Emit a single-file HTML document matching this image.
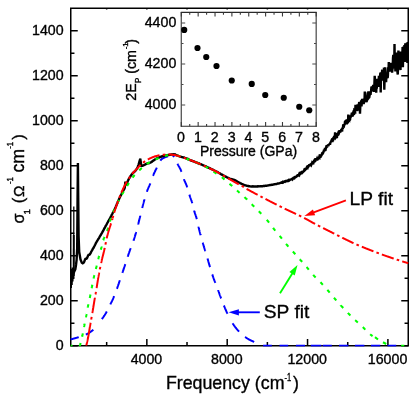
<!DOCTYPE html>
<html><head><meta charset="utf-8"><title>Optical conductivity</title>
<style>html,body{margin:0;padding:0;background:#fff;}body{width:415px;height:400px;overflow:hidden;font-family:"Liberation Sans",sans-serif;}svg{display:block;}</style></head>
<body>
<svg width="415" height="400" viewBox="0 0 415 400">
<rect width="415" height="400" fill="#fff"/>
<defs><filter id="g" x="0" y="0" width="415" height="400" filterUnits="userSpaceOnUse"><feOffset dx="0" dy="0"/></filter><clipPath id="c"><rect x="70.00" y="7.50" width="339.00" height="339.00"/></clipPath></defs>
<g stroke="#000" stroke-width="1.5" fill="none" stroke-linecap="butt">
<rect x="70.75" y="8.25" width="337.50" height="337.50"/>
<path d="M70.75,345.75h7.00M408.25,345.75h-7.00M70.75,323.25h3.70M408.25,323.25h-3.70M70.75,300.75h7.00M408.25,300.75h-7.00M70.75,278.25h3.70M408.25,278.25h-3.70M70.75,255.75h7.00M408.25,255.75h-7.00M70.75,233.25h3.70M408.25,233.25h-3.70M70.75,210.75h7.00M408.25,210.75h-7.00M70.75,188.25h3.70M408.25,188.25h-3.70M70.75,165.75h7.00M408.25,165.75h-7.00M70.75,143.25h3.70M408.25,143.25h-3.70M70.75,120.75h7.00M408.25,120.75h-7.00M70.75,98.25h3.70M408.25,98.25h-3.70M70.75,75.75h7.00M408.25,75.75h-7.00M70.75,53.25h3.70M408.25,53.25h-3.70M70.75,30.75h7.00M408.25,30.75h-7.00M106.66,345.75v-3.80M106.66,8.25v1.25M146.84,345.75v-6.80M146.84,8.25v1.25M187.02,345.75v-3.80M187.02,8.25v1.25M227.20,345.75v-6.80M227.20,8.25v1.25M267.38,345.75v-3.80M267.38,8.25v1.25M307.55,345.75v-6.80M307.55,8.25v1.25M347.73,345.75v-3.80M347.73,8.25v1.25M387.91,345.75v-6.80M387.91,8.25v1.25"/>
</g>
<g clip-path="url(#c)" fill="none" stroke-linejoin="round">
<path d="M70.60,339.40 L70.84,339.34 L71.09,339.28 L71.33,339.22 L71.57,339.16 L71.82,339.10 L72.06,339.04 L72.30,338.97 L72.54,338.91 L72.78,338.85 L73.03,338.78 L73.27,338.72 L73.51,338.65 L73.75,338.59 L73.99,338.52 L74.23,338.46 L74.47,338.39 L74.71,338.32 L74.96,338.25 L75.20,338.19 L75.44,338.12 L75.68,338.05 L75.92,337.98 L76.16,337.91 L76.39,337.84 L76.63,337.76 L76.87,337.69 L77.11,337.62 L77.35,337.55 L77.59,337.47 L77.83,337.40 L78.07,337.33 L78.31,337.25 L78.55,337.18 L78.71,337.13M85.86,334.58 L86.08,334.48 L86.30,334.37 L86.52,334.27 L86.74,334.16 L86.96,334.05 L87.18,333.93 L87.40,333.81 L87.62,333.70 L87.84,333.57 L88.06,333.45 L88.27,333.32 L88.49,333.20 L88.71,333.07 L88.92,332.93 L89.14,332.80 L89.35,332.66 L89.57,332.53 L89.78,332.39 L89.99,332.25 L90.20,332.10 L90.41,331.96 L90.62,331.81 L90.83,331.66 L91.04,331.52 L91.24,331.37 L91.45,331.21 L91.65,331.06 L91.85,330.91 L92.05,330.75 L92.25,330.59 L92.45,330.44 L92.65,330.28 L92.84,330.12 L93.03,329.96 L93.22,329.80 L93.37,329.67M101.88,319.12 L102.00,318.96 L102.14,318.76 L102.29,318.55 L102.43,318.35 L102.58,318.14 L102.72,317.94 L102.87,317.73 L103.01,317.53 L103.15,317.32 L103.30,317.12 L103.44,316.91 L103.58,316.70 L103.72,316.50 L103.86,316.29 L104.00,316.08 L104.14,315.87 L104.28,315.66 L104.42,315.46 L104.56,315.25 L104.69,315.04 L104.83,314.83 L104.96,314.62 L105.10,314.41 L105.23,314.19 L105.36,313.98 L105.50,313.77 L105.63,313.56 L105.75,313.34 L105.88,313.13 L106.01,312.92 L106.13,312.70 L106.26,312.49 L106.38,312.27 L106.50,312.05 L106.62,311.83 L106.74,311.62 L106.82,311.48M110.26,304.43 L110.37,304.20 L110.49,303.98 L110.60,303.75 L110.71,303.53 L110.83,303.31 L110.94,303.09 L111.06,302.86 L111.17,302.64 L111.29,302.42 L111.41,302.20 L111.52,301.98 L111.64,301.76 L111.76,301.53 L111.87,301.31 L111.98,301.09 L112.09,300.86 L112.20,300.64 L112.31,300.42 L112.41,300.19 L112.52,299.96 L112.62,299.73 L112.72,299.51 L112.82,299.28 L112.92,299.05 L113.01,298.82 L113.11,298.59 L113.21,298.36 L113.31,298.14 L113.40,297.91 L113.50,297.68 L113.60,297.45 L113.69,297.22 L113.79,296.99 L113.88,296.76 L113.98,296.53 L114.07,296.30 L114.12,296.19M116.90,288.85 L116.91,288.82 L117.00,288.59 L117.08,288.35 L117.16,288.12 L117.25,287.88 L117.33,287.64 L117.41,287.41 L117.50,287.17 L117.58,286.94 L117.66,286.70 L117.75,286.46 L117.83,286.23 L117.91,285.99 L117.99,285.75 L118.07,285.52 L118.16,285.28 L118.24,285.04 L118.32,284.81 L118.40,284.57 L118.48,284.33 L118.56,284.09 L118.64,283.86 L118.73,283.62 L118.81,283.38 L118.89,283.14 L118.97,282.91 L119.05,282.67 L119.13,282.43 L119.21,282.20 L119.29,281.96 L119.37,281.72 L119.45,281.48 L119.53,281.25 L119.61,281.01 L119.69,280.77 L119.77,280.53 L119.85,280.30 L119.87,280.25M122.39,272.81 L122.43,272.71 L122.51,272.47 L122.59,272.24 L122.67,272.00 L122.75,271.76 L122.84,271.53 L122.92,271.29 L123.00,271.05 L123.08,270.82 L123.16,270.58 L123.24,270.34 L123.32,270.11 L123.40,269.87 L123.48,269.63 L123.56,269.40 L123.64,269.16 L123.72,268.92 L123.80,268.68 L123.88,268.45 L123.95,268.21 L124.03,267.97 L124.11,267.74 L124.19,267.50 L124.27,267.26 L124.35,267.02 L124.43,266.79 L124.50,266.55 L124.58,266.31 L124.66,266.07 L124.74,265.84 L124.81,265.60 L124.89,265.36 L124.97,265.12 L125.05,264.88 L125.12,264.65 L125.20,264.41 L125.28,264.18M127.71,256.72 L127.76,256.56 L127.84,256.33 L127.92,256.09 L127.99,255.85 L128.07,255.61 L128.15,255.38 L128.23,255.14 L128.31,254.90 L128.39,254.67 L128.47,254.43 L128.55,254.19 L128.63,253.96 L128.71,253.72 L128.79,253.48 L128.87,253.25 L128.95,253.01 L129.03,252.77 L129.11,252.54 L129.20,252.30 L129.28,252.06 L129.36,251.83 L129.44,251.59 L129.52,251.35 L129.61,251.12 L129.69,250.88 L129.77,250.65 L129.85,250.41 L129.94,250.18 L130.02,249.94 L130.11,249.71 L130.19,249.47 L130.28,249.24 L130.36,249.00 L130.45,248.77 L130.54,248.53 L130.63,248.30 L130.69,248.12M133.48,240.79 L133.55,240.58 L133.63,240.35 L133.71,240.11 L133.79,239.87 L133.87,239.64 L133.95,239.40 L134.02,239.16 L134.10,238.93 L134.18,238.69 L134.25,238.45 L134.33,238.21 L134.40,237.97 L134.48,237.74 L134.55,237.50 L134.62,237.26 L134.70,237.02 L134.77,236.78 L134.84,236.54 L134.92,236.31 L134.99,236.07 L135.06,235.83 L135.13,235.59 L135.20,235.35 L135.27,235.11 L135.34,234.87 L135.41,234.63 L135.48,234.39 L135.55,234.15 L135.62,233.91 L135.69,233.67 L135.76,233.43 L135.83,233.19 L135.90,232.95 L135.97,232.71 L136.03,232.47 L136.10,232.23 L136.14,232.08M138.14,224.49 L138.14,224.47 L138.20,224.23 L138.26,223.99 L138.33,223.74 L138.39,223.50 L138.45,223.26 L138.51,223.01 L138.57,222.77 L138.63,222.53 L138.69,222.28 L138.75,222.04 L138.81,221.80 L138.87,221.55 L138.93,221.31 L138.99,221.06 L139.05,220.82 L139.11,220.58 L139.17,220.33 L139.22,220.09 L139.28,219.84 L139.34,219.60 L139.40,219.36 L139.46,219.11 L139.52,218.87 L139.58,218.63 L139.64,218.38 L139.70,218.14 L139.76,217.89 L139.82,217.65 L139.87,217.40 L139.93,217.16 L139.99,216.92 L140.05,216.67 L140.11,216.43 L140.17,216.18 L140.23,215.94 L140.29,215.70 L140.30,215.65M142.17,208.03 L142.20,207.90 L142.27,207.66 L142.33,207.42 L142.39,207.17 L142.45,206.93 L142.51,206.69 L142.58,206.45 L142.64,206.20 L142.70,205.96 L142.76,205.72 L142.83,205.48 L142.89,205.23 L142.95,204.99 L143.02,204.75 L143.08,204.51 L143.14,204.27 L143.21,204.03 L143.27,203.78 L143.34,203.54 L143.40,203.30 L143.47,203.06 L143.53,202.82 L143.60,202.58 L143.66,202.34 L143.73,202.10 L143.80,201.85 L143.86,201.61 L143.93,201.37 L144.00,201.13 L144.06,200.89 L144.13,200.65 L144.20,200.41 L144.27,200.17 L144.34,199.93 L144.41,199.69 L144.47,199.45 L144.53,199.24M146.89,191.75 L146.93,191.62 L147.01,191.38 L147.10,191.15 L147.18,190.91 L147.26,190.68 L147.34,190.44 L147.43,190.21 L147.51,189.98 L147.59,189.74 L147.68,189.51 L147.77,189.28 L147.87,189.05 L147.96,188.82 L148.06,188.59 L148.16,188.36 L148.26,188.13 L148.36,187.90 L148.46,187.67 L148.57,187.44 L148.67,187.21 L148.77,186.99 L148.88,186.76 L148.98,186.53 L149.09,186.30 L149.19,186.08 L149.30,185.85 L149.40,185.62 L149.50,185.39 L149.60,185.16 L149.70,184.93 L149.80,184.70 L149.89,184.47 L149.99,184.24 L150.08,184.00 L150.17,183.77 L150.26,183.54 L150.33,183.34M152.96,175.94 L153.03,175.77 L153.13,175.54 L153.22,175.31 L153.32,175.08 L153.41,174.85 L153.51,174.62 L153.61,174.39 L153.71,174.16 L153.81,173.93 L153.91,173.70 L154.01,173.47 L154.12,173.24 L154.22,173.02 L154.32,172.79 L154.43,172.56 L154.53,172.33 L154.64,172.11 L154.74,171.88 L154.85,171.65 L154.96,171.43 L155.07,171.20 L155.17,170.98 L155.28,170.75 L155.39,170.53 L155.50,170.30 L155.61,170.08 L155.72,169.85 L155.83,169.63 L155.94,169.40 L156.06,169.18 L156.17,168.95 L156.28,168.73 L156.39,168.51 L156.50,168.28 L156.62,168.06 L156.73,167.84 L156.80,167.69M160.31,160.68 L160.40,160.56 L160.54,160.37 L160.69,160.18 L160.83,160.00 L160.98,159.83 L161.14,159.67 L161.29,159.51 L161.46,159.35 L161.64,159.20 L161.82,159.05 L162.01,158.90 L162.22,158.75 L162.43,158.61 L162.64,158.48 L162.86,158.34 L163.09,158.21 L163.32,158.08 L163.55,157.96 L163.78,157.84 L164.01,157.73 L164.25,157.62 L164.48,157.52 L164.71,157.42 L164.94,157.32 L165.17,157.23 L165.40,157.14 L165.63,157.06 L165.87,156.97 L166.10,156.89 L166.34,156.81 L166.58,156.73 L166.82,156.66 L167.06,156.58 L167.30,156.51 L167.54,156.45 L167.79,156.38 L168.03,156.32 L168.07,156.31M172.48,155.60 L172.69,155.62 L172.91,155.70 L173.12,155.81 L173.33,155.96 L173.53,156.14 L173.73,156.34 L173.92,156.55 L174.10,156.77 L174.25,156.96M177.47,163.82 L177.56,163.98 L177.68,164.20 L177.80,164.42 L177.93,164.64 L178.05,164.86 L178.17,165.08 L178.30,165.30 L178.42,165.52 L178.54,165.74 L178.67,165.95 L178.79,166.17 L178.92,166.39 L179.04,166.61 L179.16,166.83 L179.29,167.05 L179.41,167.27 L179.53,167.49 L179.65,167.71 L179.77,167.93 L179.88,168.15 L180.00,168.37 L180.11,168.59 L180.23,168.81 L180.34,169.04 L180.45,169.26 L180.55,169.48 L180.66,169.71 L180.76,169.94 L180.86,170.16 L180.95,170.39 L181.05,170.62 L181.14,170.85 L181.23,171.08 L181.32,171.31 L181.40,171.55 L181.49,171.78 L181.51,171.84M183.87,179.07 L183.90,179.16 L183.99,179.39 L184.08,179.62 L184.18,179.85 L184.27,180.08 L184.37,180.32 L184.46,180.55 L184.56,180.78 L184.66,181.01 L184.76,181.24 L184.86,181.47 L184.96,181.70 L185.06,181.93 L185.16,182.16 L185.26,182.39 L185.36,182.61 L185.47,182.84 L185.57,183.07 L185.67,183.30 L185.77,183.53 L185.87,183.76 L185.97,183.99 L186.07,184.22 L186.17,184.45 L186.26,184.68 L186.36,184.91 L186.46,185.14 L186.55,185.37 L186.64,185.61 L186.73,185.84 L186.82,186.07 L186.91,186.30 L187.00,186.54 L187.08,186.77 L187.17,187.01 L187.25,187.24 L187.30,187.39M189.38,194.69 L189.46,194.93 L189.53,195.17 L189.61,195.41 L189.69,195.64 L189.77,195.88 L189.85,196.12 L189.93,196.35 L190.01,196.59 L190.09,196.83 L190.18,197.06 L190.26,197.30 L190.35,197.53 L190.43,197.77 L190.52,198.00 L190.60,198.24 L190.69,198.48 L190.77,198.71 L190.86,198.95 L190.94,199.18 L191.03,199.42 L191.11,199.65 L191.20,199.89 L191.28,200.12 L191.37,200.36 L191.45,200.60 L191.53,200.83 L191.61,201.07 L191.69,201.31 L191.77,201.54 L191.85,201.78 L191.92,202.02 L192.00,202.26 L192.07,202.49 L192.14,202.73 L192.21,202.97 L192.28,203.21M194.10,210.59 L194.14,210.74 L194.21,210.98 L194.28,211.22 L194.35,211.46 L194.42,211.69 L194.50,211.93 L194.57,212.17 L194.65,212.41 L194.73,212.65 L194.80,212.89 L194.88,213.12 L194.96,213.36 L195.04,213.60 L195.12,213.83 L195.21,214.07 L195.29,214.31 L195.37,214.55 L195.45,214.78 L195.53,215.02 L195.61,215.26 L195.69,215.49 L195.78,215.73 L195.86,215.97 L195.94,216.20 L196.02,216.44 L196.09,216.68 L196.17,216.92 L196.25,217.15 L196.32,217.39 L196.40,217.63 L196.47,217.87 L196.54,218.11 L196.61,218.35 L196.68,218.59 L196.75,218.83 L196.81,219.07 L196.84,219.16M198.43,226.59 L198.44,226.64 L198.50,226.89 L198.55,227.13 L198.61,227.37 L198.67,227.62 L198.73,227.86 L198.79,228.10 L198.84,228.35 L198.90,228.59 L198.96,228.83 L199.02,229.08 L199.08,229.32 L199.14,229.56 L199.20,229.80 L199.26,230.05 L199.33,230.29 L199.39,230.53 L199.45,230.77 L199.51,231.01 L199.57,231.26 L199.64,231.50 L199.70,231.74 L199.76,231.98 L199.83,232.23 L199.89,232.47 L199.95,232.71 L200.02,232.95 L200.08,233.19 L200.15,233.43 L200.21,233.68 L200.27,233.92 L200.34,234.16 L200.40,234.40 L200.47,234.64 L200.53,234.88 L200.60,235.12 L200.65,235.31M202.71,242.63 L202.77,242.82 L202.84,243.06 L202.91,243.30 L202.98,243.54 L203.05,243.78 L203.12,244.02 L203.20,244.26 L203.27,244.50 L203.34,244.74 L203.41,244.98 L203.48,245.22 L203.55,245.46 L203.62,245.70 L203.70,245.94 L203.77,246.18 L203.84,246.42 L203.91,246.66 L203.99,246.90 L204.06,247.13 L204.13,247.37 L204.20,247.61 L204.28,247.85 L204.35,248.09 L204.42,248.33 L204.49,248.57 L204.57,248.81 L204.64,249.05 L204.71,249.29 L204.79,249.53 L204.86,249.77 L204.93,250.01 L205.00,250.24 L205.08,250.48 L205.15,250.72 L205.22,250.96 L205.30,251.20 L205.31,251.24M207.51,258.52 L207.54,258.62 L207.61,258.86 L207.68,259.10 L207.75,259.34 L207.82,259.58 L207.89,259.82 L207.96,260.06 L208.03,260.30 L208.10,260.54 L208.17,260.78 L208.24,261.02 L208.31,261.26 L208.38,261.50 L208.44,261.74 L208.51,261.98 L208.58,262.22 L208.65,262.46 L208.72,262.70 L208.79,262.94 L208.86,263.18 L208.93,263.42 L209.00,263.67 L209.07,263.91 L209.14,264.15 L209.20,264.39 L209.27,264.63 L209.34,264.87 L209.41,265.11 L209.48,265.35 L209.55,265.59 L209.62,265.83 L209.69,266.07 L209.76,266.31 L209.83,266.55 L209.90,266.79 L209.97,267.03 L210.01,267.16M212.26,274.42 L212.27,274.43 L212.34,274.67 L212.42,274.90 L212.50,275.14 L212.58,275.38 L212.66,275.62 L212.74,275.85 L212.82,276.09 L212.90,276.33 L212.98,276.56 L213.06,276.80 L213.14,277.04 L213.22,277.27 L213.31,277.51 L213.39,277.74 L213.47,277.98 L213.56,278.22 L213.64,278.45 L213.73,278.69 L213.81,278.92 L213.90,279.15 L213.99,279.39 L214.08,279.62 L214.17,279.85 L214.26,280.09 L214.35,280.32 L214.44,280.55 L214.54,280.78 L214.63,281.01 L214.73,281.25 L214.82,281.48 L214.92,281.71 L215.01,281.94 L215.11,282.17 L215.20,282.40 L215.30,282.63 L215.39,282.86M218.07,289.97 L218.12,290.12 L218.21,290.35 L218.29,290.59 L218.37,290.83 L218.46,291.06 L218.54,291.30 L218.62,291.53 L218.70,291.77 L218.79,292.01 L218.87,292.24 L218.95,292.48 L219.04,292.71 L219.12,292.95 L219.20,293.18 L219.29,293.42 L219.37,293.66 L219.46,293.89 L219.54,294.13 L219.62,294.36 L219.71,294.60 L219.79,294.83 L219.88,295.07 L219.96,295.30 L220.05,295.54 L220.13,295.77 L220.22,296.01 L220.30,296.24 L220.39,296.48 L220.48,296.71 L220.56,296.95 L220.65,297.18 L220.74,297.41 L220.83,297.65 L220.92,297.88 L221.01,298.11 L221.09,298.35 L221.13,298.43M223.90,305.51 L223.93,305.57 L224.02,305.80 L224.12,306.04 L224.21,306.27 L224.31,306.50 L224.40,306.73 L224.50,306.96 L224.59,307.19 L224.69,307.43 L224.79,307.66 L224.88,307.89 L224.98,308.12 L225.08,308.35 L225.17,308.58 L225.27,308.81 L225.37,309.04 L225.47,309.27 L225.57,309.50 L225.67,309.73 L225.77,309.96 L225.87,310.19 L225.97,310.41 L226.07,310.64 L226.17,310.87 L226.27,311.10 L226.37,311.33 L226.48,311.55 L226.58,311.78 L226.68,312.01 L226.79,312.23 L226.89,312.46 L227.00,312.69 L227.10,312.91 L227.21,313.14 L227.31,313.36 L227.42,313.59 L227.50,313.76M232.64,323.30 L232.77,323.51 L232.90,323.72 L233.04,323.93 L233.17,324.14 L233.31,324.34 L233.45,324.55 L233.58,324.75 L233.72,324.96 L233.86,325.16 L234.00,325.37 L234.14,325.57 L234.29,325.77 L234.43,325.98 L234.58,326.18 L234.72,326.38 L234.87,326.58 L235.02,326.79 L235.17,326.99 L235.32,327.19 L235.47,327.39 L235.63,327.59 L235.78,327.79 L235.94,327.99 L236.10,328.19 L236.25,328.38 L236.41,328.58 L236.57,328.78 L236.73,328.97 L236.89,329.17 L237.06,329.36 L237.22,329.55 L237.39,329.74 L237.55,329.93 L237.72,330.12 L237.89,330.31 L238.05,330.50 L238.22,330.68 L238.39,330.87 L238.56,331.05 L238.73,331.23 L238.91,331.41 L239.07,331.58M245.07,336.86 L245.11,336.89 L245.31,337.04 L245.52,337.19 L245.72,337.34 L245.93,337.49 L246.13,337.64 L246.34,337.78 L246.55,337.93 L246.76,338.07 L246.96,338.21 L247.17,338.35 L247.38,338.48 L247.59,338.62 L247.81,338.75 L248.02,338.88 L248.23,339.01 L248.44,339.14 L248.66,339.27 L248.87,339.39 L249.08,339.51 L249.30,339.63 L249.51,339.75 L249.73,339.86 L249.95,339.97 L250.16,340.08 L250.38,340.19 L250.60,340.30 L250.82,340.41 L251.04,340.52 L251.26,340.62 L251.49,340.73 L251.71,340.83 L251.94,340.94 L252.17,341.04 L252.39,341.14 L252.62,341.24 L252.85,341.34 L253.09,341.44 L253.32,341.54 L253.55,341.64 L253.78,341.74 L254.02,341.83 L254.23,341.92M263.10,345.75L271.80,345.75M279.50,345.75L288.20,345.75M295.90,345.75L305.00,345.75M310.80,345.75L321.40,345.75M322.80,345.75L331.80,345.75M339.00,345.75L348.40,345.75M354.90,345.75L364.40,345.75M370.90,345.75L380.30,345.75M387.50,345.75L396.20,345.75" stroke="#0000ff" stroke-width="2.0"/>
<path d="M70.75,288.00 L71.15,271.00 L71.55,285.00 L71.95,269.00 L72.35,281.50 L72.75,267.50 L73.15,278.00 L73.60,273.00 L74.30,271.50 L75.30,269.50 L76.00,265.00 L76.60,260.00 L77.20,248.00 L77.55,200.00 L77.90,163.10 L78.25,200.00 L78.60,236.00 L79.20,252.00 L80.50,259.50 L81.80,262.60 L82.80,263.25 L83.10,263.05 L83.40,262.87 L83.70,262.59 L84.00,262.19 L84.30,261.61 L84.60,260.69 L84.90,259.84 L85.20,259.16 L85.50,258.80 L85.80,258.73 L86.10,258.69 L86.40,258.69 L86.70,258.60 L87.00,258.12 L87.30,257.54 L87.60,256.68 L87.90,255.93 L88.20,255.33 L88.50,254.95 L88.80,254.90 L89.10,254.83 L89.40,254.67 L89.70,254.48 L90.00,254.14 L90.30,253.64 L90.60,253.13 L90.90,252.47 L91.20,251.76 L91.50,251.25 L91.80,250.71 L92.10,250.26 L92.40,249.73 L92.70,249.04 L93.00,248.58 L93.30,248.21 L93.60,247.70 L93.90,247.08 L94.20,246.52 L94.50,246.00 L94.80,245.36 L95.10,244.79 L95.40,244.13 L95.70,243.54 L96.00,242.91 L96.30,242.38 L96.60,241.92 L96.90,241.43 L97.20,240.92 L97.50,240.40 L97.80,239.94 L98.10,239.43 L98.40,238.94 L98.70,238.50 L99.00,238.06 L99.30,237.48 L99.60,236.96 L99.90,236.50 L100.20,235.97 L100.50,235.50 L100.80,234.97 L101.10,234.53 L101.40,233.86 L101.70,233.30 L102.00,232.84 L102.30,232.29 L102.60,231.73 L102.90,231.34 L103.20,230.63 L103.50,230.12 L103.80,229.49 L104.10,228.99 L104.40,228.47 L104.70,227.83 L105.00,227.31 L105.30,226.73 L105.60,226.19 L105.90,225.58 L106.20,225.03 L106.50,224.58 L106.80,223.99 L107.10,223.33 L107.40,222.93 L107.70,222.33 L108.00,221.97 L108.30,221.21 L108.60,220.75 L108.90,220.20 L109.20,219.64 L109.50,219.11 L109.80,218.52 L110.10,217.98 L110.40,217.35 L110.70,216.87 L111.00,216.25 L111.30,215.71 L111.60,215.13 L111.90,214.59 L112.20,214.04 L112.50,213.45 L112.80,212.84 L113.10,212.25 L113.40,211.76 L113.70,211.10 L114.00,210.53 L114.30,209.88 L114.60,209.30 L114.90,208.65 L115.20,208.05 L115.50,207.44 L115.80,206.81 L116.10,206.07 L116.40,205.32 L116.70,204.67 L117.00,203.80 L117.30,203.26 L117.60,202.46 L117.90,201.84 L118.20,201.05 L118.50,200.33 L118.80,199.66 L119.10,198.92 L119.40,198.33 L119.70,197.64 L120.00,197.00 L120.30,196.40 L120.60,195.77 L120.90,195.20 L121.20,194.67 L121.50,194.10 L121.80,193.52 L122.10,192.86 L122.40,192.35 L122.70,191.75 L123.00,191.25 L123.30,190.57 L123.60,190.07 L123.90,189.49 L124.20,189.03 L124.50,188.48 L124.80,187.51 L125.10,184.28 L125.40,181.51 L125.70,182.68 L126.00,184.46 L126.30,184.52 L126.60,184.00 L126.90,183.40 L127.20,182.60 L127.50,181.87 L127.80,181.10 L128.10,180.47 L128.40,179.79 L128.70,179.20 L129.00,178.71 L129.30,178.19 L129.60,177.67 L129.90,177.10 L130.20,176.66 L130.50,176.27 L130.80,175.74 L131.10,175.30 L131.40,175.02 L131.70,174.52 L132.00,174.10 L132.30,173.75 L132.60,173.48 L132.90,173.10 L133.20,172.79 L133.50,172.58 L133.80,172.25 L134.10,171.96 L134.40,171.79 L134.70,171.48 L135.00,171.22 L135.30,170.93 L135.60,170.50 L135.90,170.11 L136.20,169.69 L136.50,169.32 L136.80,168.78 L137.10,168.38 L137.40,167.73 L137.70,167.05 L138.00,166.26 L138.30,165.37 L138.60,164.56 L138.90,163.68 L139.20,162.40 L139.50,161.27 L139.80,160.16 L140.10,159.52 L140.40,159.58 L140.70,161.35 L141.00,164.05 L141.30,165.90 L141.60,165.97 L141.90,165.92 L142.20,165.80 L142.50,165.76 L142.80,165.61 L143.10,165.58 L143.40,165.47 L143.70,165.31 L144.00,165.15 L144.30,164.99 L144.60,164.86 L144.90,164.65 L145.20,164.55 L145.50,164.32 L145.80,164.14 L146.10,163.99 L146.40,163.91 L146.70,163.69 L147.00,163.60 L147.30,163.52 L147.60,163.38 L147.90,163.24 L148.20,163.24 L148.50,163.05 L148.80,163.15 L149.10,163.03 L149.40,162.94 L149.70,162.94 L150.00,162.80 L150.30,162.63 L150.60,162.50 L150.90,162.36 L151.20,162.13 L151.50,161.85 L151.80,161.79 L152.10,161.44 L152.40,161.22 L152.70,160.94 L153.00,160.77 L153.30,160.66 L153.60,160.45 L153.90,160.26 L154.20,160.06 L154.50,159.73 L154.80,159.61 L155.10,159.38 L155.40,159.24 L155.70,159.06 L156.00,158.87 L156.30,158.69 L156.60,158.55 L156.90,158.45 L157.20,158.26 L157.50,158.12 L157.80,157.98 L158.10,157.91 L158.40,157.78 L158.70,157.61 L159.00,157.54 L159.30,157.38 L159.60,157.23 L159.90,157.15 L160.20,156.92 L160.50,156.86 L160.80,156.82 L161.10,156.63 L161.40,156.54 L161.70,156.48 L162.00,156.44 L162.30,156.25 L162.60,156.20 L162.90,156.15 L163.20,156.13 L163.50,155.94 L163.80,155.96 L164.10,155.87 L164.40,155.91 L164.70,155.71 L165.00,155.64 L165.30,155.66 L165.60,155.62 L165.90,155.45 L166.20,155.40 L166.50,155.45 L166.80,155.36 L167.10,155.32 L167.40,155.20 L167.70,155.13 L168.00,155.06 L168.30,155.06 L168.60,154.95 L168.90,155.03 L169.20,154.86 L169.50,154.81 L169.80,154.84 L170.10,154.78 L170.40,154.65 L170.70,154.59 L171.00,154.53 L171.30,154.56 L171.60,154.46 L171.90,154.41 L172.20,154.43 L172.50,154.37 L172.80,154.35 L173.10,154.27 L173.40,154.25 L173.70,154.32 L174.00,154.35 L174.30,154.34 L174.60,154.29 L174.90,154.59 L175.20,154.57 L175.50,154.72 L175.80,154.94 L176.10,155.09 L176.40,155.10 L176.70,155.22 L177.00,155.44 L177.30,155.50 L177.60,155.65 L177.90,155.74 L178.20,155.83 L178.50,155.97 L178.80,156.07 L179.10,156.10 L179.40,156.27 L179.70,156.43 L180.00,156.63 L180.30,156.61 L180.60,156.71 L180.90,156.83 L181.20,156.86 L181.50,156.96 L181.80,157.08 L182.10,157.18 L182.40,157.19 L182.70,157.24 L183.00,157.33 L183.30,157.43 L183.60,157.45 L183.90,157.60 L184.20,157.80 L184.50,157.73 L184.80,157.90 L185.10,157.92 L185.40,158.04 L185.70,158.21 L186.00,158.29 L186.30,158.38 L186.60,158.50 L186.90,158.63 L187.20,158.79 L187.50,158.86 L187.80,159.12 L188.10,159.04 L188.40,159.31 L188.70,159.43 L189.00,159.52 L189.30,159.76 L189.60,159.89 L189.90,160.02 L190.20,160.06 L190.50,160.17 L190.80,160.38 L191.10,160.50 L191.40,160.59 L191.70,160.74 L192.00,160.75 L192.30,160.96 L192.60,161.04 L192.90,161.11 L193.20,161.22 L193.50,161.26 L193.80,161.52 L194.10,161.62 L194.40,161.66 L194.70,161.79 L195.00,161.91 L195.30,162.05 L195.60,162.19 L195.90,162.18 L196.20,162.40 L196.50,162.46 L196.80,162.66 L197.10,162.73 L197.40,162.84 L197.70,162.98 L198.00,163.04 L198.30,163.26 L198.60,163.28 L198.90,163.46 L199.20,163.75 L199.50,163.64 L199.80,163.84 L200.10,164.01 L200.40,164.13 L200.70,164.17 L201.00,164.34 L201.30,164.51 L201.60,164.60 L201.90,164.76 L202.20,164.87 L202.50,164.91 L202.80,165.08 L203.10,165.29 L203.40,165.36 L203.70,165.49 L204.00,165.61 L204.30,165.73 L204.60,165.93 L204.90,166.03 L205.20,166.23 L205.50,166.26 L205.80,166.50 L206.10,166.53 L206.40,166.77 L206.70,166.86 L207.00,167.03 L207.30,167.13 L207.60,167.23 L207.90,167.56 L208.20,167.57 L208.50,167.65 L208.80,167.84 L209.10,167.93 L209.40,168.09 L209.70,168.16 L210.00,168.40 L210.30,168.47 L210.60,168.62 L210.90,168.80 L211.20,168.95 L211.50,169.13 L211.80,169.24 L212.10,169.41 L212.40,169.50 L212.70,169.62 L213.00,169.86 L213.30,169.89 L213.60,170.08 L213.90,170.27 L214.20,170.44 L214.50,170.51 L214.80,170.73 L215.10,170.89 L215.40,171.03 L215.70,171.22 L216.00,171.27 L216.30,171.47 L216.60,171.65 L216.90,171.74 L217.20,171.90 L217.50,172.13 L217.80,172.29 L218.10,172.42 L218.40,172.62 L218.70,172.83 L219.00,172.98 L219.30,173.14 L219.60,173.36 L219.90,173.43 L220.20,173.52 L220.50,173.86 L220.80,173.99 L221.10,174.20 L221.40,174.41 L221.70,174.54 L222.00,174.71 L222.30,174.71 L222.60,175.08 L222.90,175.24 L223.20,175.32 L223.50,175.45 L223.80,175.61 L224.10,175.81 L224.40,175.96 L224.70,176.14 L225.00,176.36 L225.30,176.41 L225.60,176.59 L225.90,176.81 L226.20,176.84 L226.50,177.05 L226.80,177.23 L227.10,177.41 L227.40,177.58 L227.70,177.64 L228.00,177.88 L228.30,177.96 L228.60,178.06 L228.90,178.20 L229.20,178.36 L229.50,178.54 L229.80,178.56 L230.10,178.70 L230.40,178.89 L230.70,178.99 L231.00,179.01 L231.30,179.08 L231.60,179.25 L231.90,179.41 L232.20,179.34 L232.50,179.49 L232.80,179.53 L233.10,179.67 L233.40,179.70 L233.70,179.79 L234.00,179.94 L234.30,180.10 L234.60,180.08 L234.90,180.25 L235.20,180.34 L235.50,180.56 L235.80,180.63 L236.10,180.79 L236.40,180.97 L236.70,181.20 L237.00,181.29 L237.30,181.50 L237.60,181.68 L237.90,181.87 L238.20,182.04 L238.50,182.28 L238.80,182.38 L239.10,182.60 L239.40,182.72 L239.70,182.99 L240.00,183.09 L240.30,183.33 L240.60,183.43 L240.90,183.50 L241.20,183.68 L241.50,183.79 L241.80,183.97 L242.10,184.12 L242.40,184.17 L242.70,184.31 L243.00,184.47 L243.30,184.59 L243.60,184.71 L243.90,184.83 L244.20,184.96 L244.50,185.15 L244.80,185.19 L245.10,185.29 L245.40,185.36 L245.70,185.44 L246.00,185.53 L246.30,185.69 L246.60,185.75 L246.90,185.72 L247.20,185.81 L247.50,185.90 L247.80,185.95 L248.10,185.96 L248.40,186.00 L248.70,186.16 L249.00,186.12 L249.30,186.21 L249.60,186.30 L249.90,186.34 L250.20,186.34 L250.50,186.43 L250.80,186.49 L251.10,186.45 L251.40,186.52 L251.70,186.49 L252.00,186.48 L252.30,186.57 L252.60,186.54 L252.90,186.32 L253.20,186.50 L253.50,186.60 L253.80,186.54 L254.10,186.52 L254.40,186.46 L254.70,186.49 L255.00,186.44 L255.30,186.46 L255.60,186.51 L255.90,186.49 L256.20,186.43 L256.50,186.41 L256.80,186.45 L257.10,186.42 L257.40,186.49 L257.70,186.38 L258.00,186.46 L258.30,186.36 L258.60,186.42 L258.90,186.42 L259.20,186.32 L259.50,186.34 L259.80,186.36 L260.10,186.30 L260.40,186.28 L260.70,186.31 L261.00,186.25 L261.30,186.18 L261.60,186.14 L261.90,186.18 L262.20,186.12 L262.50,186.17 L262.80,186.05 L263.10,186.01 L263.40,186.10 L263.70,186.01 L264.00,186.04 L264.30,185.97 L264.60,185.98 L264.90,185.94 L265.20,185.80 L265.50,185.79 L265.80,185.73 L266.10,185.80 L266.40,185.72 L266.70,185.72 L267.00,185.66 L267.30,185.59 L267.60,185.55 L267.90,185.51 L268.20,185.42 L268.50,185.39 L268.80,185.36 L269.10,185.24 L269.40,185.16 L269.70,185.16 L270.00,185.03 L270.30,185.01 L270.60,184.97 L270.90,184.98 L271.20,184.82 L271.50,184.81 L271.80,184.75 L272.10,184.75 L272.40,184.73 L272.70,184.62 L273.00,184.62 L273.30,184.51 L273.60,184.50 L273.90,184.39 L274.20,184.32 L274.50,184.36 L274.80,184.26 L275.10,184.16 L275.40,184.14 L275.70,184.06 L276.00,183.94 L276.30,183.99 L276.60,183.96 L276.90,183.85 L277.20,183.70 L277.50,183.55 L277.80,183.58 L278.10,183.50 L278.40,183.45 L278.70,183.52 L279.00,183.43 L279.30,183.35 L279.60,183.30 L279.90,183.01 L280.20,182.95 L280.50,182.81 L280.80,182.71 L281.10,182.80 L281.40,182.64 L281.70,182.52 L282.00,182.60 L282.30,182.31 L282.60,181.96 L282.90,182.30 L283.20,181.93 L283.50,182.14 L283.80,181.84 L284.10,181.62 L284.40,181.59 L284.70,181.43 L285.00,181.63 L285.30,181.22 L285.60,181.12 L285.90,181.25 L286.20,180.98 L286.50,180.94 L286.80,181.04 L287.10,180.79 L287.40,180.83 L287.70,180.94 L288.00,180.51 L288.30,180.22 L288.60,180.48 L288.90,180.03 L289.20,179.90 L289.50,180.22 L289.80,179.89 L290.10,179.86 L290.40,179.64 L290.70,179.58 L291.00,179.39 L291.30,179.39 L291.60,179.18 L291.90,178.80 L292.20,178.76 L292.50,179.15 L292.80,178.53 L293.10,178.52 L293.40,178.06 L293.70,178.22 L294.00,178.07 L294.30,177.58 L294.60,177.93 L294.90,177.39 L295.20,177.18 L295.50,177.22 L295.80,177.20 L296.10,176.96 L296.40,176.58 L296.70,176.02 L297.00,176.12 L297.30,176.01 L297.60,175.95 L297.90,175.26 L298.20,175.24 L298.50,175.16 L298.80,174.97 L299.10,174.22 L299.40,174.68 L299.70,173.80 L300.00,174.21 L300.30,173.99 L300.60,173.53 L300.90,173.22 L301.20,172.50 L301.50,172.58 L301.80,172.85 L302.10,172.34 L302.40,171.89 L302.70,171.01 L303.00,171.93 L303.30,171.61 L303.60,171.34 L303.90,171.08 L304.20,170.15 L304.50,170.44 L304.80,170.00 L305.10,169.09 L305.40,168.19 L305.70,169.36 L306.00,169.05 L306.30,168.48 L306.60,168.36 L306.90,167.26 L307.20,167.39 L307.50,167.69 L307.80,166.42 L308.10,166.48 L308.40,166.62 L308.70,166.09 L309.00,165.26 L309.30,165.13 L309.60,166.20 L309.90,165.16 L310.20,164.82 L310.50,165.20 L310.80,165.00 L311.10,163.72 L311.40,164.43 L311.70,163.59 L312.00,163.54 L312.30,162.38 L312.60,162.64 L312.90,163.35 L313.20,164.35 L313.50,161.93 L313.80,161.38 L314.10,162.44 L314.40,161.06 L314.70,161.95 L315.00,159.97 L315.30,161.53 L315.60,158.20 L315.90,159.12 L316.20,159.83 L316.50,160.50 L316.80,159.24 L317.10,158.47 L317.40,159.21 L317.70,159.32 L318.00,158.80 L318.30,157.41 L318.60,158.29 L318.90,158.00 L319.20,156.99 L319.50,157.36 L319.80,155.39 L320.10,155.45 L320.40,156.43 L320.70,156.49 L321.00,155.58 L321.30,155.15 L321.60,155.16 L321.90,154.52 L322.20,152.45 L322.50,154.17 L322.80,153.43 L323.10,151.59 L323.40,152.16 L323.70,151.36 L324.00,149.79 L324.30,150.93 L324.60,149.77 L324.90,150.13 L325.20,150.25 L325.50,150.15 L325.80,148.58 L326.10,147.94 L326.40,146.24 L326.70,146.13 L327.00,147.57 L327.30,145.54 L327.60,146.21 L327.90,144.72 L328.20,146.31 L328.50,144.12 L328.80,145.54 L329.10,144.15 L329.40,144.79 L329.70,143.17 L330.00,144.83 L330.30,142.96 L330.60,142.29 L330.90,141.98 L331.20,141.26 L331.50,142.19 L331.80,140.11 L332.10,139.69 L332.40,142.23 L332.70,139.18 L333.00,141.02 L333.30,138.01 L333.60,139.54 L333.90,137.36 L334.20,136.14 L334.50,137.48 L334.80,138.18 L335.10,132.35 L335.40,136.12 L335.70,137.65 L336.00,137.26 L336.30,137.01 L336.60,135.77 L336.90,138.21 L337.20,134.40 L337.50,133.50 L337.80,135.17 L338.10,135.63 L338.40,131.49 L338.70,134.61 L339.00,130.63 L339.30,133.00 L339.60,130.14 L339.90,132.61 L340.20,131.17 L340.50,132.21 L340.80,130.26 L341.10,130.96 L341.40,128.96 L341.70,130.39 L342.00,129.50 L342.30,129.80 L342.60,128.07 L342.90,128.99 L343.20,124.23 L343.50,125.51 L343.80,127.75 L344.10,124.21 L344.40,125.18 L344.70,124.16 L345.00,121.68 L345.30,121.42 L345.60,123.32 L345.90,122.33 L346.20,122.37 L346.50,121.26 L346.80,124.49 L347.10,119.33 L347.40,120.49 L347.70,123.20 L348.00,122.34 L348.30,114.55 L348.60,119.47 L348.90,119.64 L349.20,119.94 L349.50,115.65 L349.80,120.27 L350.10,119.52 L350.40,116.77 L350.70,115.61 L351.00,116.34 L351.30,115.77 L351.60,114.26 L351.90,112.68 L352.20,115.89 L352.50,116.49 L352.80,114.63 L353.10,112.01 L353.40,112.50 L353.70,110.53 L354.00,114.83 L354.30,110.10 L354.60,110.33 L354.90,111.82 L355.20,112.00 L355.50,104.91 L355.80,107.31 L356.10,108.69 L356.40,110.99 L356.70,107.04 L357.00,107.51 L357.30,106.22 L357.60,106.49 L357.90,105.88 L358.20,106.49 L358.50,108.56 L358.80,108.13 L359.10,103.27 L359.40,103.36 L359.70,103.76 L360.00,113.76 L360.30,105.87 L360.60,105.54 L360.90,101.43 L361.20,101.12 L361.50,106.40 L361.80,103.12 L362.10,98.95 L362.40,99.57 L362.70,102.34 L363.00,99.54 L363.30,100.64 L363.60,103.90 L363.90,102.83 L364.20,98.62 L364.50,101.22 L364.80,91.58 L365.10,99.46 L365.40,101.10 L365.70,95.77 L366.00,96.87 L366.30,101.02 L366.60,102.18 L366.90,99.56 L367.20,96.88 L367.50,94.63 L367.80,92.32 L368.10,97.98 L368.40,91.30 L368.70,97.83 L369.00,97.43 L369.30,97.24 L369.60,95.42 L369.90,94.03 L370.20,91.27 L370.50,94.75 L370.80,92.17 L371.10,91.17 L371.40,87.43 L371.70,86.87 L372.00,91.44 L372.30,86.20 L372.60,90.92 L372.90,88.06 L373.20,84.77 L373.50,88.44 L373.80,90.25 L374.10,91.83 L374.40,84.14 L374.70,75.90 L375.00,82.77 L375.30,85.29 L375.60,82.25 L375.90,82.81 L376.20,92.67 L376.50,84.61 L376.80,88.92 L377.10,78.80 L377.40,85.14 L377.70,82.56 L378.00,79.82 L378.30,79.46 L378.60,86.92 L378.90,75.86 L379.20,81.36 L379.50,80.33 L379.80,85.14 L380.10,75.27 L380.40,72.56 L380.70,92.48 L381.00,75.64 L381.30,76.41 L381.60,72.04 L381.90,73.11 L382.20,69.73 L382.50,78.87 L382.80,78.48 L383.10,71.02 L383.40,73.78 L383.70,73.42 L384.00,67.66 L384.30,89.72 L384.60,79.31 L384.90,78.05 L385.20,67.32 L385.50,71.28 L385.80,75.43 L386.10,82.11 L386.40,75.74 L386.70,78.30 L387.00,76.25 L387.30,75.20 L387.60,78.14 L387.90,75.83 L388.20,67.21 L388.50,70.06 L388.80,62.15 L389.10,67.89 L389.40,71.79 L389.70,63.42 L390.00,70.09 L390.30,70.21 L390.60,62.77 L390.90,65.02 L391.20,69.49 L391.50,66.61 L391.80,65.95 L392.10,72.60 L392.40,69.59 L392.70,68.15 L393.00,58.01 L393.30,54.80 L393.60,62.95 L393.90,57.37 L394.20,68.42 L394.50,44.06 L394.80,62.86 L395.10,62.79 L395.40,71.40 L395.70,68.56 L396.00,64.14 L396.30,65.72 L396.60,56.30 L396.90,52.53 L397.20,53.97 L397.50,72.71 L397.80,74.51 L398.10,63.76 L398.40,50.59 L398.70,52.68 L399.00,66.18 L399.30,67.58 L399.60,54.94 L399.90,61.95 L400.20,67.06 L400.50,70.01 L400.80,57.74 L401.10,51.57 L401.40,64.26 L401.70,61.39 L402.00,58.34 L402.30,55.71 L402.60,47.10 L402.90,67.17 L403.20,54.51 L403.50,46.43 L403.80,47.42 L404.10,58.29 L404.40,45.11 L404.70,61.64 L405.00,60.80 L405.30,43.24 L405.60,57.80 L405.90,49.52 L406.20,48.77 L406.50,61.70 L406.80,42.80 L407.10,50.57 L407.40,62.93 L407.70,41.90 L408.00,53.90" stroke="#000" stroke-width="2.4" stroke-linejoin="miter" stroke-miterlimit="3"/>
<path d="M73.75,274L73.8,206.4" stroke="#000" stroke-width="1.25"/>
<path d="M73.7,276L73.75,235" stroke="#000" stroke-width="1.9"/>
<path d="M70.75,345.75 L71.12,345.75 L71.48,345.75 L71.84,345.75 L72.18,345.75 L72.52,345.75M78.92,345.64 L78.99,345.64 L79.14,345.63 L79.28,345.62 L79.42,345.61 L79.55,345.60 L79.67,345.58 L79.78,345.49 L79.89,345.34 L79.99,345.13 L80.08,344.89 L80.17,344.61 L80.25,344.31 L80.33,344.01 L80.41,343.70 L80.49,343.41 L80.56,343.14 L80.59,343.03M82.12,336.82 L82.17,336.58 L82.22,336.33 L82.27,336.09 L82.32,335.84 L82.37,335.60 L82.43,335.35 L82.48,335.11 L82.53,334.86 L82.58,334.62 L82.63,334.37 L82.68,334.13 L82.73,333.88 L82.78,333.64 L82.83,333.39 L82.83,333.39M84.00,327.10 L84.02,327.00 L84.07,326.76 L84.11,326.51 L84.16,326.27 L84.21,326.02 L84.25,325.77 L84.30,325.53 L84.35,325.28 L84.39,325.04 L84.44,324.79 L84.49,324.55 L84.54,324.30 L84.58,324.06 L84.63,323.81 L84.66,323.66M85.90,317.39 L85.94,317.19 L85.99,316.94 L86.04,316.70 L86.09,316.45 L86.13,316.21 L86.18,315.96 L86.23,315.72 L86.27,315.47 L86.32,315.23 L86.37,314.98 L86.41,314.73 L86.46,314.49 L86.50,314.24 L86.55,314.00 L86.56,313.95M87.70,307.65 L87.71,307.60 L87.76,307.35 L87.80,307.11 L87.85,306.86 L87.90,306.62 L87.95,306.37 L88.00,306.13 L88.04,305.88 L88.09,305.64 L88.14,305.39 L88.19,305.15 L88.24,304.90 L88.29,304.66 L88.35,304.41 L88.39,304.22M89.78,297.97 L89.81,297.82 L89.86,297.58 L89.91,297.33 L89.96,297.09 L90.01,296.84 L90.06,296.60 L90.11,296.35 L90.16,296.11 L90.21,295.86 L90.26,295.62 L90.30,295.37 L90.35,295.13 L90.40,294.88 L90.45,294.64 L90.47,294.54M91.64,288.25 L91.64,288.25 L91.69,288.00 L91.74,287.76 L91.78,287.51 L91.83,287.27 L91.88,287.02 L91.92,286.77 L91.97,286.53 L92.02,286.28 L92.07,286.04 L92.11,285.79 L92.16,285.55 L92.21,285.30 L92.25,285.06 L92.30,284.81M93.53,278.53 L93.55,278.43 L93.60,278.19 L93.65,277.94 L93.71,277.70 L93.76,277.45 L93.81,277.21 L93.87,276.97 L93.92,276.72 L93.98,276.48 L94.04,276.24 L94.10,275.99 L94.15,275.75 L94.21,275.51 L94.27,275.26 L94.31,275.12M95.90,268.92 L95.95,268.72 L96.01,268.48 L96.07,268.24 L96.13,268.00 L96.19,267.75 L96.25,267.51 L96.31,267.27 L96.37,267.02 L96.42,266.78 L96.48,266.54 L96.54,266.30 L96.60,266.05 L96.66,265.81 L96.71,265.57 L96.73,265.52M98.20,259.29 L98.21,259.24 L98.27,259.00 L98.33,258.76 L98.40,258.51 L98.46,258.27 L98.52,258.03 L98.58,257.79 L98.64,257.54 L98.71,257.30 L98.77,257.06 L98.83,256.82 L98.90,256.58 L98.96,256.34 L99.02,256.09 L99.08,255.90M100.78,249.73 L100.82,249.59 L100.88,249.34 L100.95,249.10 L101.01,248.86 L101.08,248.62 L101.15,248.38 L101.21,248.14 L101.28,247.90 L101.34,247.66 L101.41,247.41 L101.47,247.17 L101.53,246.93 L101.60,246.69 L101.66,246.45 L101.68,246.35M103.31,240.16 L103.32,240.15 L103.39,239.92 L103.46,239.68 L103.53,239.44 L103.61,239.20 L103.68,238.96 L103.76,238.73 L103.84,238.49 L103.92,238.25 L104.00,238.02 L104.08,237.79 L104.17,237.55 L104.25,237.32 L104.34,237.08 L104.43,236.85 L104.43,236.85M106.92,230.95 L106.96,230.85 L107.05,230.62 L107.14,230.38 L107.23,230.15 L107.31,229.92 L107.40,229.68 L107.48,229.45 L107.57,229.21 L107.65,228.98 L107.73,228.74 L107.81,228.50 L107.88,228.26 L107.96,228.03 L108.04,227.79 L108.08,227.65M109.90,221.51 L109.96,221.31 L110.04,221.07 L110.12,220.84 L110.19,220.60 L110.27,220.36 L110.35,220.12 L110.43,219.89 L110.51,219.65 L110.59,219.42 L110.68,219.18 L110.76,218.95 L110.85,218.71 L110.93,218.48 L111.02,218.25 L111.03,218.20M113.36,212.24 L113.38,212.19 L113.48,211.96 L113.58,211.72 L113.67,211.49 L113.77,211.26 L113.87,211.03 L113.97,210.80 L114.07,210.57 L114.16,210.34 L114.26,210.11 L114.36,209.88 L114.46,209.65 L114.56,209.42 L114.66,209.19 L114.74,209.02M117.41,203.21 L117.49,203.06 L117.60,202.83 L117.71,202.61 L117.81,202.38 L117.92,202.16 L118.03,201.93 L118.14,201.71 L118.25,201.49 L118.36,201.26 L118.47,201.04 L118.58,200.82 L118.70,200.60 L118.81,200.37 L118.92,200.15 L118.96,200.07M122.01,194.45 L122.02,194.44 L122.14,194.22 L122.27,194.00 L122.39,193.78 L122.52,193.57 L122.64,193.35 L122.77,193.13 L122.89,192.92 L123.02,192.70 L123.15,192.48 L123.27,192.27 L123.40,192.05 L123.53,191.83 L123.65,191.62 L123.77,191.42M127.09,185.95 L127.15,185.84 L127.28,185.63 L127.41,185.41 L127.54,185.20 L127.68,184.99 L127.81,184.77 L127.94,184.56 L128.07,184.35 L128.20,184.13 L128.33,183.92 L128.46,183.70 L128.60,183.49 L128.73,183.28 L128.86,183.06 L128.92,182.97M132.51,177.67 L132.65,177.48 L132.80,177.28 L132.96,177.08 L133.11,176.89 L133.26,176.70 L133.42,176.50 L133.57,176.31 L133.73,176.12 L133.89,175.93 L134.05,175.74 L134.21,175.55 L134.38,175.36 L134.54,175.17 L134.70,174.98 L134.72,174.96M139.18,170.37 L139.25,170.30 L139.43,170.13 L139.61,169.96 L139.79,169.79 L139.98,169.62 L140.16,169.45 L140.34,169.28 L140.53,169.11 L140.71,168.95 L140.89,168.78 L141.08,168.61 L141.26,168.44 L141.45,168.27 L141.64,168.10 L141.75,168.00M146.74,164.00 L146.92,163.88 L147.13,163.74 L147.33,163.61 L147.54,163.47 L147.75,163.34 L147.96,163.21 L148.17,163.09 L148.39,162.96 L148.60,162.84 L148.81,162.71 L149.03,162.59 L149.25,162.47 L149.47,162.35 L149.69,162.23 L149.75,162.20M155.52,159.44 L155.57,159.41 L155.80,159.31 L156.03,159.20 L156.26,159.10 L156.48,158.99 L156.71,158.88 L156.94,158.77 L157.16,158.67 L157.39,158.56 L157.62,158.45 L157.85,158.34 L158.08,158.24 L158.30,158.13 L158.53,158.02 L158.69,157.95M164.74,155.91 L164.90,155.87 L165.15,155.81 L165.39,155.76 L165.64,155.70 L165.89,155.65 L166.13,155.60 L166.38,155.55 L166.63,155.50 L166.87,155.46 L167.12,155.41 L167.37,155.37 L167.62,155.34 L167.86,155.30 L168.11,155.27 L168.18,155.26M176.90,155.42 L177.01,155.46 L177.25,155.53 L177.49,155.61 L177.73,155.69 L177.97,155.77 L178.22,155.85 L178.46,155.94 L178.70,156.02 L178.94,156.11 L179.18,156.19 L179.42,156.28 L179.66,156.36 L179.90,156.45 L180.13,156.53 L180.30,156.59M186.41,158.65 L186.53,158.70 L186.77,158.78 L187.00,158.87 L187.24,158.96 L187.47,159.05 L187.71,159.13 L187.94,159.22 L188.18,159.31 L188.41,159.40 L188.64,159.49 L188.88,159.57 L189.11,159.66 L189.35,159.75 L189.58,159.84 L189.78,159.92M195.78,162.29 L195.86,162.32 L196.09,162.42 L196.32,162.51 L196.55,162.61 L196.78,162.71 L197.01,162.80 L197.24,162.90 L197.47,163.00 L197.70,163.10 L197.93,163.19 L198.16,163.29 L198.39,163.39 L198.62,163.49 L198.85,163.59 L199.08,163.69 L199.09,163.70M204.95,166.40 L204.99,166.42 L205.21,166.53 L205.44,166.64 L205.66,166.75 L205.88,166.87 L206.11,166.98 L206.33,167.10 L206.55,167.21 L206.77,167.33 L206.99,167.44 L207.21,167.56 L207.43,167.68 L207.65,167.80 L207.86,167.92 L208.08,168.05 L208.13,168.08M213.53,171.60 L213.73,171.74 L213.94,171.88 L214.14,172.02 L214.35,172.16 L214.56,172.30 L214.76,172.44 L214.97,172.58 L215.18,172.72 L215.39,172.86 L215.60,173.00 L215.81,173.13 L216.02,173.27 L216.23,173.41 L216.44,173.54 L216.53,173.60M221.87,177.21 L222.03,177.33 L222.23,177.48 L222.42,177.64 L222.61,177.79 L222.80,177.95 L222.99,178.12 L223.17,178.28 L223.36,178.45 L223.54,178.62 L223.72,178.79 L223.90,178.97 L224.08,179.15 L224.25,179.32 L224.43,179.50 L224.54,179.61M229.43,183.81 L229.55,183.90 L229.75,184.05 L229.95,184.20 L230.15,184.36 L230.34,184.51 L230.54,184.66 L230.74,184.82 L230.94,184.97 L231.13,185.13 L231.33,185.28 L231.52,185.44 L231.72,185.60 L231.91,185.75 L232.10,185.91 L232.26,186.04M237.02,190.39 L237.09,190.46 L237.27,190.63 L237.45,190.80 L237.64,190.97 L237.82,191.14 L238.00,191.31 L238.19,191.48 L238.37,191.65 L238.55,191.82 L238.74,191.99 L238.92,192.16 L239.11,192.33 L239.30,192.49 L239.48,192.66 L239.67,192.83 L239.67,192.83M244.49,197.12 L244.52,197.15 L244.71,197.32 L244.89,197.49 L245.08,197.66 L245.26,197.83 L245.44,198.00 L245.63,198.17 L245.81,198.34 L245.99,198.51 L246.17,198.68 L246.36,198.85 L246.54,199.02 L246.72,199.20 L246.90,199.37 L247.08,199.54 L247.11,199.58M251.67,204.15 L251.84,204.32 L252.02,204.50 L252.19,204.68 L252.37,204.86 L252.54,205.04 L252.72,205.21 L252.90,205.39 L253.07,205.57 L253.25,205.75 L253.42,205.92 L253.60,206.10 L253.78,206.28 L253.95,206.45 L254.13,206.63 L254.20,206.70M258.79,211.23 L258.94,211.38 L259.11,211.55 L259.29,211.73 L259.46,211.91 L259.64,212.09 L259.81,212.26 L259.99,212.44 L260.16,212.62 L260.34,212.80 L260.51,212.98 L260.69,213.16 L260.86,213.34 L261.03,213.52 L261.20,213.70 L261.31,213.81M266.74,219.76 L266.77,219.80 L266.93,219.99 L267.09,220.17 L267.26,220.36 L267.42,220.56 L267.58,220.75 L267.74,220.94 L267.90,221.13 L268.06,221.32 L268.22,221.51 L268.37,221.71 L268.53,221.90 L268.69,222.10 L268.84,222.29 L269.00,222.49 L269.03,222.53M273.07,227.88 L273.22,228.08 L273.37,228.27 L273.53,228.47 L273.68,228.67 L273.84,228.86 L273.99,229.06 L274.15,229.25 L274.31,229.44 L274.47,229.64 L274.63,229.83 L274.78,230.02 L274.94,230.22 L275.10,230.41 L275.26,230.60 L275.33,230.68M279.64,235.81 L279.76,235.96 L279.92,236.16 L280.08,236.35 L280.24,236.54 L280.40,236.74 L280.55,236.93 L280.71,237.13 L280.87,237.32 L281.02,237.52 L281.18,237.71 L281.33,237.91 L281.49,238.11 L281.64,238.30 L281.80,238.50 L281.89,238.62M286.05,243.87 L286.15,243.98 L286.31,244.18 L286.47,244.37 L286.63,244.56 L286.79,244.75 L286.95,244.94 L287.11,245.13 L287.27,245.32 L287.44,245.51 L287.60,245.70 L287.76,245.89 L287.93,246.08 L288.09,246.26 L288.26,246.45 L288.39,246.60M292.90,251.56 L292.97,251.63 L293.14,251.82 L293.30,252.00 L293.47,252.19 L293.64,252.38 L293.81,252.56 L293.97,252.75 L294.14,252.93 L294.31,253.12 L294.47,253.31 L294.64,253.49 L294.81,253.68 L294.97,253.86 L295.14,254.05 L295.31,254.24M299.77,259.24 L299.80,259.27 L299.97,259.46 L300.13,259.65 L300.30,259.84 L300.46,260.02 L300.63,260.21 L300.79,260.40 L300.96,260.59 L301.12,260.77 L301.29,260.96 L301.46,261.15 L301.62,261.34 L301.79,261.52 L301.95,261.71 L302.12,261.90 L302.15,261.94M306.56,266.98 L306.56,266.98 L306.72,267.17 L306.88,267.36 L307.04,267.55 L307.21,267.74 L307.37,267.93 L307.53,268.12 L307.69,268.31 L307.85,268.51 L308.01,268.70 L308.17,268.89 L308.33,269.08 L308.49,269.28 L308.65,269.47 L308.81,269.66 L308.87,269.74M313.18,274.87 L313.32,275.02 L313.48,275.21 L313.65,275.39 L313.82,275.57 L313.99,275.76 L314.16,275.94 L314.33,276.12 L314.50,276.30 L314.68,276.48 L314.85,276.66 L315.03,276.84 L315.20,277.02 L315.38,277.19 L315.55,277.37 L315.66,277.48M320.44,282.17 L320.54,282.28 L320.72,282.47 L320.89,282.65 L321.06,282.83 L321.23,283.01 L321.40,283.19 L321.57,283.37 L321.74,283.56 L321.91,283.74 L322.08,283.92 L322.25,284.11 L322.42,284.29 L322.59,284.48 L322.76,284.66 L322.90,284.81M327.34,289.82 L327.41,289.90 L327.57,290.08 L327.74,290.27 L327.90,290.46 L328.06,290.65 L328.22,290.84 L328.38,291.04 L328.54,291.23 L328.71,291.42 L328.87,291.61 L329.03,291.80 L329.18,292.00 L329.34,292.19 L329.50,292.38 L329.66,292.57M333.94,297.72 L333.98,297.76 L334.14,297.95 L334.31,298.14 L334.47,298.33 L334.64,298.52 L334.80,298.70 L334.97,298.89 L335.13,299.08 L335.30,299.27 L335.46,299.45 L335.63,299.64 L335.80,299.83 L335.96,300.01 L336.13,300.20 L336.30,300.38 L336.33,300.42M340.84,305.37 L340.84,305.38 L341.01,305.56 L341.18,305.74 L341.35,305.93 L341.52,306.11 L341.69,306.30 L341.86,306.48 L342.03,306.66 L342.20,306.85 L342.37,307.03 L342.54,307.22 L342.70,307.40 L342.87,307.58 L343.04,307.77 L343.21,307.95 L343.28,308.02M347.88,312.89 L348.02,313.04 L348.20,313.22 L348.37,313.40 L348.54,313.58 L348.72,313.76 L348.89,313.94 L349.07,314.11 L349.24,314.29 L349.42,314.47 L349.59,314.65 L349.77,314.83 L349.94,315.01 L350.12,315.19 L350.29,315.36 L350.40,315.47M355.19,320.15 L355.30,320.25 L355.49,320.42 L355.67,320.59 L355.86,320.76 L356.04,320.92 L356.23,321.09 L356.42,321.26 L356.60,321.42 L356.79,321.59 L356.98,321.76 L357.16,321.92 L357.35,322.09 L357.54,322.25 L357.73,322.42 L357.87,322.54M362.83,327.06 L362.90,327.13 L363.08,327.31 L363.25,327.49 L363.43,327.66 L363.60,327.84 L363.78,328.02 L363.95,328.20 L364.13,328.39 L364.30,328.57 L364.47,328.75 L364.65,328.93 L364.82,329.11 L364.99,329.29 L365.17,329.47 L365.33,329.64M370.20,334.24 L370.24,334.28 L370.43,334.44 L370.62,334.60 L370.82,334.76 L371.01,334.92 L371.21,335.07 L371.40,335.23 L371.60,335.39 L371.79,335.55 L371.99,335.70 L372.19,335.86 L372.39,336.01 L372.59,336.17M375.0,337.2L378.0,339.5M383.0,342.3L386.2,344.0M401.1,345.75L404.3,345.75" stroke="#00ff00" stroke-width="2.1"/>
<path d="M86.25,345.60 L86.31,345.36 L86.37,345.11 L86.43,344.87 L86.49,344.63 L86.55,344.39 L86.61,344.14 L86.67,343.90 L86.73,343.66 L86.79,343.41 L86.85,343.17 L86.91,342.93 L86.97,342.68 L87.03,342.44 L87.08,342.20 L87.14,341.95 L87.20,341.71 L87.25,341.47 L87.31,341.22 L87.36,340.98 L87.42,340.74 L87.47,340.49 L87.53,340.25 L87.58,340.00 L87.63,339.76 L87.69,339.51 L87.74,339.27 L87.79,339.03 L87.84,338.78 L87.89,338.54 L87.94,338.29 L87.99,338.05 L88.04,337.80 L88.09,337.56 L88.14,337.31 L88.18,337.07 L88.23,336.82 L88.28,336.58 L88.32,336.33 L88.37,336.09 L88.41,335.84 L88.46,335.59 L88.50,335.35 L88.54,335.10 L88.59,334.86 L88.63,334.61 L88.67,334.36 L88.71,334.12 L88.76,333.87 L88.80,333.62 L88.84,333.38 L88.88,333.13 L88.92,332.88 L88.96,332.64 L89.00,332.39 L89.04,332.14 L89.08,331.90 L89.12,331.65 L89.16,331.40 L89.20,331.15 L89.24,330.91 L89.28,330.66 L89.32,330.41 L89.36,330.17 L89.40,329.92 L89.44,329.67 L89.48,329.43 L89.52,329.18 L89.56,328.93 L89.60,328.69 L89.64,328.44 L89.68,328.19 L89.72,327.94 L89.76,327.70 L89.80,327.45 L89.84,327.20 L89.88,326.96 L89.92,326.71 L89.96,326.46 L90.01,326.22 L90.05,325.97 L90.09,325.73 L90.13,325.48 L90.18,325.23 L90.22,324.99 L90.26,324.74 L90.30,324.49 L90.35,324.25 L90.39,324.00 L90.43,323.76 L90.48,323.51 L90.52,323.26 L90.56,323.02 L90.61,322.77M91.19,319.47 L91.22,319.32 L91.26,319.08 L91.31,318.83 L91.35,318.59 L91.39,318.34 L91.44,318.09 L91.48,317.85 L91.53,317.60 L91.57,317.36 L91.61,317.11 L91.65,316.91M92.31,313.17 L92.35,312.92 L92.39,312.68 L92.44,312.43 L92.48,312.18 L92.52,311.94 L92.56,311.69 L92.61,311.45 L92.65,311.20 L92.69,310.95 L92.73,310.71 L92.77,310.46 L92.82,310.21 L92.86,309.97 L92.90,309.72 L92.94,309.47 L92.98,309.23 L93.02,308.98 L93.06,308.73 L93.10,308.49 L93.14,308.24 L93.19,307.99 L93.23,307.75 L93.27,307.50 L93.31,307.25 L93.35,307.01 L93.39,306.76 L93.43,306.51 L93.47,306.27 L93.51,306.02 L93.55,305.77 L93.59,305.53 L93.63,305.28 L93.67,305.03 L93.71,304.79 L93.75,304.54 L93.79,304.29 L93.83,304.05 L93.87,303.80 L93.91,303.55 L93.95,303.31 L93.99,303.06 L94.03,302.81 L94.07,302.57 L94.11,302.32 L94.15,302.07 L94.19,301.83 L94.23,301.58 L94.28,301.33 L94.32,301.09 L94.36,300.84 L94.40,300.59 L94.44,300.35 L94.48,300.10 L94.52,299.85 L94.57,299.61 L94.61,299.36 L94.65,299.11 L94.69,298.87 L94.74,298.62 L94.78,298.38 L94.82,298.13 L94.87,297.88 L94.90,297.69M95.47,294.44 L95.52,294.19 L95.56,293.94 L95.60,293.70 L95.65,293.45 L95.69,293.20 L95.73,292.96 L95.78,292.71 L95.82,292.47 L95.86,292.22 L95.91,291.97 L95.93,291.88M96.56,288.13 L96.58,288.03 L96.62,287.78 L96.66,287.54 L96.70,287.29 L96.74,287.04 L96.78,286.80 L96.82,286.55 L96.86,286.30 L96.90,286.06 L96.94,285.81 L96.98,285.56 L97.02,285.32 L97.06,285.07 L97.10,284.82 L97.14,284.58 L97.18,284.33 L97.22,284.08 L97.26,283.84 L97.30,283.59 L97.34,283.34 L97.38,283.09 L97.42,282.85 L97.46,282.60 L97.50,282.35 L97.54,282.11 L97.58,281.86 L97.62,281.61 L97.66,281.37 L97.70,281.12 L97.74,280.87 L97.78,280.63 L97.82,280.38 L97.86,280.13 L97.91,279.89 L97.95,279.64 L97.99,279.39 L98.03,279.15 L98.07,278.90 L98.11,278.65 L98.15,278.41 L98.19,278.16 L98.24,277.91 L98.28,277.67 L98.32,277.42 L98.36,277.18 L98.41,276.93 L98.45,276.68 L98.49,276.44 L98.54,276.19 L98.58,275.94 L98.62,275.70 L98.67,275.45 L98.71,275.21 L98.76,274.96 L98.80,274.71 L98.85,274.47 L98.89,274.22 L98.94,273.98 L98.98,273.73 L99.03,273.49 L99.08,273.24 L99.12,272.99 L99.17,272.75 L99.19,272.65M99.81,269.41 L99.83,269.31 L99.88,269.07 L99.93,268.82 L99.98,268.58 L100.03,268.33 L100.08,268.09 L100.13,267.84 L100.18,267.60 L100.23,267.35 L100.28,267.11 L100.33,266.86M101.11,263.14 L101.15,262.95 L101.21,262.70 L101.26,262.46 L101.31,262.21 L101.37,261.97 L101.42,261.73 L101.48,261.48 L101.53,261.24 L101.59,261.00 L101.64,260.75 L101.70,260.51 L101.76,260.27 L101.81,260.02 L101.87,259.78 L101.93,259.54 L101.99,259.29 L102.05,259.05 L102.11,258.81 L102.16,258.56 L102.22,258.32 L102.28,258.08 L102.34,257.83 L102.40,257.59 L102.46,257.35 L102.52,257.11 L102.58,256.86 L102.64,256.62 L102.70,256.38 L102.76,256.14 L102.82,255.89 L102.88,255.65 L102.95,255.41 L103.01,255.17 L103.07,254.92 L103.13,254.68 L103.19,254.44 L103.25,254.19 L103.31,253.95 L103.37,253.71 L103.43,253.47 L103.49,253.22 L103.55,252.98 L103.61,252.74 L103.67,252.50 L103.73,252.25 L103.79,252.01 L103.84,251.77 L103.90,251.52 L103.96,251.28 L104.02,251.04 L104.08,250.79 L104.13,250.55 L104.19,250.31 L104.25,250.06 L104.30,249.82 L104.36,249.58 L104.42,249.33 L104.47,249.09 L104.52,248.84 L104.58,248.60 L104.63,248.36 L104.69,248.11 L104.74,247.87M105.41,244.64 L105.45,244.44 L105.50,244.19 L105.55,243.95 L105.60,243.70 L105.65,243.46 L105.70,243.21 L105.75,242.97 L105.80,242.72 L105.85,242.48 L105.90,242.23 L105.93,242.09M106.71,238.37 L106.72,238.31 L106.77,238.07 L106.83,237.83 L106.88,237.58 L106.94,237.34 L106.99,237.10 L107.05,236.85 L107.11,236.61 L107.17,236.37 L107.22,236.12 L107.28,235.88 L107.34,235.64 L107.40,235.40 L107.46,235.16 L107.52,234.91 L107.58,234.67 L107.65,234.43 L107.71,234.19 L107.77,233.95 L107.84,233.71 L107.90,233.47 L107.97,233.23 L108.04,232.99 L108.11,232.75 L108.17,232.51 L108.24,232.27 L108.31,232.03 L108.38,231.79 L108.45,231.55 L108.52,231.31 L108.60,231.07 L108.67,230.83 L108.74,230.59 L108.81,230.35 L108.89,230.11 L108.96,229.87 L109.04,229.63 L109.11,229.40 L109.19,229.16 L109.26,228.92 L109.34,228.68 L109.41,228.44 L109.49,228.20 L109.56,227.96 L109.64,227.73 L109.72,227.49 L109.79,227.25 L109.87,227.01 L109.95,226.77 L110.02,226.53 L110.10,226.30 L110.18,226.06 L110.26,225.82 L110.33,225.58 L110.41,225.34 L110.49,225.11 L110.56,224.87 L110.64,224.63 L110.72,224.39 L110.79,224.15 L110.87,223.91 L110.95,223.68 L111.02,223.44 L111.07,223.30M112.04,220.14 L112.05,220.09 L112.12,219.85 L112.19,219.61 L112.26,219.37 L112.33,219.13 L112.40,218.89 L112.47,218.65 L112.54,218.41" stroke="#ff0000" stroke-width="2.0"/>
<path d="M112.54,218.41 L112.61,218.17 L112.67,217.93 L112.74,217.69 L112.81,217.44 L112.88,217.20 L112.95,216.96 L113.01,216.72 L113.08,216.48 L113.15,216.24 L113.22,216.00 L113.28,215.76 L113.35,215.52 L113.42,215.28 L113.49,215.04 L113.56,214.80 L113.62,214.56 L113.69,214.31 L113.76,214.07 L113.83,213.83 L113.90,213.59 L113.97,213.35 L114.04,213.11 L114.11,212.87 L114.18,212.63 L114.25,212.39 L114.33,212.16 L114.40,211.92 L114.47,211.68 L114.54,211.44 L114.62,211.20 L114.69,210.96 L114.77,210.72 L114.84,210.49 L114.92,210.25 L115.00,210.01 L115.07,209.77 L115.15,209.54 L115.23,209.30 L115.31,209.06 L115.39,208.83 L115.46,208.59 L115.54,208.35 L115.62,208.11 L115.70,207.88 L115.78,207.64 L115.86,207.40 L115.94,207.16 L116.02,206.93 L116.10,206.69 L116.18,206.45 L116.26,206.21 L116.34,205.97 L116.42,205.74 L116.50,205.50 L116.58,205.26 L116.66,205.02 L116.74,204.79 L116.82,204.55 L116.90,204.31 L116.99,204.07 L117.07,203.84 L117.15,203.60 L117.23,203.36 L117.32,203.13 L117.40,202.89 L117.48,202.65 L117.57,202.41 L117.65,202.18 L117.73,201.94 L117.82,201.70 L117.90,201.47 L117.99,201.23 L118.07,201.00 L118.16,200.76 L118.25,200.52 L118.33,200.29 L118.42,200.05 L118.50,199.82 L118.59,199.58 L118.68,199.34 L118.77,199.11 L118.85,198.87 L118.94,198.64 L119.03,198.40 L119.12,198.17 L119.21,197.94 L119.30,197.70 L119.39,197.47 L119.48,197.23 L119.57,197.00 L119.66,196.77 L119.75,196.53 L119.85,196.30 L119.94,196.07 L120.03,195.83 L120.12,195.60 L120.22,195.37 L120.31,195.14 L120.40,194.90 L120.50,194.67 L120.59,194.44 L120.69,194.21 L120.78,193.98 L120.88,193.75 L120.98,193.52 L121.07,193.29 L121.17,193.06 L121.27,192.83 L121.36,192.60 L121.46,192.37 L121.56,192.14 L121.66,191.92 L121.76,191.69 L121.86,191.46 L121.96,191.23 L122.06,191.01 L122.16,190.78 L122.27,190.55 L122.37,190.33 L122.47,190.10 L122.57,189.87 L122.68,189.65 L122.78,189.43 L122.89,189.20 L122.99,188.98 L123.10,188.75 L123.20,188.53 L123.31,188.31 L123.42,188.08 L123.53,187.86 L123.64,187.64 L123.75,187.41 L123.86,187.19 L123.97,186.97 L124.08,186.74 L124.19,186.52 L124.31,186.30 L124.42,186.07 L124.54,185.85 L124.65,185.63 L124.77,185.41 L124.89,185.18 L125.00,184.96 L125.12,184.74 L125.24,184.52 L125.36,184.30 L125.48,184.08 L125.60,183.86 L125.72,183.64 L125.85,183.42 L125.97,183.20 L126.09,182.98 L126.22,182.76 L126.34,182.54 L126.47,182.32 L126.60,182.10 L126.72,181.88 L126.85,181.67 L126.98,181.45 L127.11,181.23 L127.24,181.02 L127.37,180.80 L127.50,180.58 L127.63,180.37 L127.76,180.15 L127.89,179.94 L128.03,179.73 L128.16,179.51 L128.30,179.30 L128.43,179.09 L128.57,178.88 L128.70,178.67 L128.84,178.46 L128.98,178.25 L129.12,178.04 L129.25,177.83 L129.39,177.62 L129.53,177.42 L129.67,177.21 L129.82,177.01 L129.96,176.80 L130.10,176.60 L130.24,176.39 L130.39,176.19 L130.53,175.99 L130.67,175.79 L130.82,175.59 L130.96,175.39 L131.11,175.19 L131.26,174.99 L131.41,174.79 L131.56,174.60 L131.71,174.40 L131.86,174.21 L132.02,174.02 L132.18,173.82 L132.34,173.63 L132.50,173.44 L132.66,173.26 L132.82,173.07 L132.99,172.88 L133.16,172.69 L133.32,172.51 L133.49,172.32 L133.66,172.14 L133.83,171.95 L134.00,171.77 L134.18,171.59 L134.35,171.40 L134.52,171.22 L134.70,171.04 L134.87,170.86 L135.05,170.68 L135.22,170.50 L135.40,170.31 L135.57,170.13 L135.75,169.95 L135.92,169.77 L136.09,169.59 L136.27,169.41 L136.44,169.23 L136.62,169.05 L136.79,168.87 L136.96,168.69 L137.13,168.50 L137.30,168.32 L137.47,168.14 L137.64,167.95 L137.81,167.77 L137.98,167.58 L138.15,167.40 L138.32,167.21 L138.49,167.02 L138.67,166.84 L138.84,166.65 L139.01,166.47 L139.18,166.28 L139.35,166.10 L139.52,165.91 L139.70,165.73 L139.87,165.55 L140.04,165.37 L140.22,165.19 L140.40,165.01 L140.57,164.83 L140.75,164.66 L140.93,164.48 L141.11,164.31 L141.29,164.14 L141.47,163.97 L141.66,163.81 L141.84,163.65 L142.03,163.48 L142.22,163.33 L142.41,163.17 L142.60,163.02 L142.80,162.87 L142.99,162.72 L143.19,162.57 L143.39,162.42 L143.59,162.27 L143.79,162.12 L143.99,161.98 L144.19,161.83 L144.40,161.69 L144.60,161.54 L144.81,161.40 L145.02,161.26 L145.23,161.12 L145.44,160.98 L145.65,160.84 L145.86,160.70 L146.08,160.57 L146.29,160.43 L146.51,160.30 L146.72,160.17 L146.94,160.04 L147.16,159.91 L147.38,159.78 L147.59,159.66 L147.81,159.53 L148.03,159.41 L148.25,159.29 L148.47,159.17 L148.70,159.05 L148.92,158.94 L149.14,158.82 L149.36,158.71 L149.58,158.60 L149.81,158.49 L150.03,158.39 L150.25,158.28 L150.48,158.18 L150.70,158.07 L150.93,157.97 L151.16,157.86 L151.38,157.76 L151.61,157.66 L151.84,157.56 L152.07,157.46 L152.31,157.37 L152.54,157.27 L152.77,157.17 L153.01,157.08 L153.24,156.99 L153.48,156.90 L153.71,156.81 L153.95,156.72 L154.19,156.64 L154.42,156.56 L154.66,156.48 L154.90,156.40 L155.14,156.32 L155.38,156.25 L155.62,156.18 L155.85,156.11 L156.09,156.04 L156.33,155.98 L156.57,155.91 L156.81,155.85 L157.05,155.79 L157.30,155.72 L157.54,155.66 L157.78,155.60 L158.02,155.54 L158.27,155.48 L158.51,155.42 L158.76,155.36 L159.00,155.30 L159.25,155.25 L159.50,155.19 L159.74,155.14 L159.99,155.09 L160.24,155.05 L160.48,155.00 L160.73,154.96 L160.98,154.92 L161.23,154.88 L161.47,154.85 L161.72,154.82 L161.97,154.79 L162.22,154.77 L162.46,154.75 L162.71,154.74 L162.96,154.72 L163.21,154.70 L163.46,154.69 L163.70,154.67 L163.95,154.66 L164.20,154.64 L164.45,154.63 L164.70,154.62 L164.95,154.60 L165.20,154.59 L165.45,154.58 L165.70,154.57 L165.95,154.56 L166.20,154.55 L166.46,154.54 L166.71,154.53 L166.96,154.53 L167.21,154.52 L167.46,154.51 L167.71,154.51 L167.96,154.51 L168.21,154.50 L168.46,154.50 L168.71,154.50 L168.96,154.50 L169.21,154.50 L169.46,154.51 L169.71,154.52 L169.96,154.53 L170.21,154.55 L170.46,154.56 L170.71,154.58 L170.96,154.60 L171.21,154.62 L171.46,154.64 L171.71,154.67 L171.96,154.69 L172.21,154.72 L172.46,154.75 L172.70,154.78 L172.95,154.81 L173.20,154.83 L173.45,154.86 L173.69,154.89 L173.94,154.92 L174.18,154.96 L174.43,155.00 L174.67,155.04 L174.92,155.08 L175.16,155.13 L175.40,155.18 L175.65,155.24 L175.89,155.29 L176.13,155.35 L176.38,155.41 L176.62,155.48 L176.86,155.54 L177.10,155.61 L177.34,155.68 L177.59,155.75 L177.83,155.82 L178.07,155.90 L178.31,155.97 L178.55,156.05 L178.79,156.12 L179.03,156.20 L179.27,156.27 L179.51,156.35 L179.75,156.43 L179.99,156.50 L180.23,156.58 L180.47,156.66 L180.71,156.73 L180.94,156.81 L181.18,156.88 L181.42,156.95 L181.66,157.03 L181.90,157.10 L182.14,157.18 L182.37,157.25 L182.61,157.33 L182.85,157.41 L183.09,157.49 L183.32,157.56 L183.56,157.64 L183.80,157.73 L184.03,157.81 L184.27,157.89 L184.50,157.97 L184.74,158.05 L184.98,158.14 L185.21,158.22 L185.45,158.31 L185.68,158.39 L185.92,158.48 L186.15,158.56 L186.39,158.65 L186.62,158.74 L186.86,158.82 L187.09,158.91 L187.33,159.00 L187.56,159.08 L187.80,159.17 L188.03,159.26 L188.26,159.35 L188.50,159.44 L188.73,159.52 L188.97,159.61 L189.20,159.70 L189.44,159.79 L189.67,159.88 L189.90,159.96 L190.14,160.05 L190.37,160.14 L190.60,160.23 L190.84,160.32 L191.07,160.41 L191.31,160.49 L191.54,160.58 L191.77,160.67 L192.01,160.76 L192.24,160.85 L192.47,160.94 L192.70,161.03 L192.94,161.13 L193.17,161.22 L193.40,161.31 L193.64,161.40 L193.87,161.49 L194.10,161.58 L194.33,161.68 L194.57,161.77 L194.80,161.86 L195.03,161.95 L195.26,162.05 L195.49,162.14 L195.73,162.23 L195.96,162.33 L196.19,162.42 L196.42,162.52 L196.65,162.61 L196.88,162.71 L197.12,162.80 L197.35,162.90 L197.58,162.99 L197.81,163.09 L198.04,163.18 L198.27,163.28 L198.50,163.37 L198.73,163.47 L198.96,163.57 L199.19,163.66 L199.43,163.76 L199.66,163.86 L199.89,163.95 L200.12,164.05 L200.35,164.15 L200.58,164.24 L200.81,164.34 L201.04,164.44 L201.27,164.54 L201.50,164.64 L201.72,164.74 L201.95,164.84 L202.18,164.94 L202.41,165.04 L202.64,165.14 L202.87,165.24 L203.10,165.34 L203.33,165.44 L203.56,165.54 L203.78,165.64 L204.01,165.75 L204.24,165.85 L204.47,165.95 L204.70,166.05 L204.93,166.16 L205.15,166.26 L205.38,166.36 L205.61,166.47 L205.84,166.57 L206.06,166.67 L206.29,166.78 L206.52,166.88 L206.75,166.98 L206.97,167.09 L207.20,167.19 L207.43,167.30 L207.66,167.40 L207.88,167.50 L208.11,167.61 L208.34,167.71 L208.56,167.82 L208.79,167.92 L209.02,168.03 L209.25,168.13 L209.47,168.24 L209.70,168.34 L209.93,168.45 L210.15,168.55 L210.38,168.66 L210.61,168.76 L210.83,168.87 L211.06,168.97 L211.29,169.08 L211.51,169.19 L211.74,169.30 L211.97,169.40 L212.19,169.51 L212.42,169.62 L212.64,169.73 L212.87,169.84 L213.09,169.95 L213.32,170.06 L213.54,170.17 L213.76,170.28 L213.99,170.39 L214.21,170.50 L214.43,170.61 L214.66,170.72 L214.88,170.84 L215.10,170.95 L215.32,171.07 L215.54,171.18 L215.77,171.30 L215.99,171.41 L216.21,171.53 L216.43,171.65 L216.65,171.77 L216.87,171.88 L217.09,172.00 L217.31,172.12 L217.53,172.24 L217.75,172.36 L217.96,172.48 L218.18,172.60 L218.40,172.73 L218.62,172.85 L218.84,172.97 L219.06,173.09 L219.27,173.22 L219.49,173.34 L219.71,173.46 L219.93,173.59 L220.14,173.71 L220.36,173.83 L220.58,173.96 L220.80,174.08 L221.01,174.21 L221.23,174.33 L221.45,174.46 L221.66,174.58 L221.88,174.71 L222.10,174.83 L222.31,174.96 L222.53,175.08 L222.75,175.21 L222.96,175.33 L223.18,175.46 L223.40,175.58 L223.61,175.71 L223.83,175.83 L224.05,175.95 L224.26,176.08 L224.48,176.20 L224.70,176.33 L224.92,176.45 L225.13,176.58 L225.35,176.70 L225.57,176.82 L225.78,176.95 L226.00,177.07 L226.22,177.20 L226.43,177.32 L226.65,177.45 L226.86,177.58 L227.08,177.70 L227.30,177.83 L227.51,177.95 L227.73,178.08 L227.94,178.21 L228.16,178.33 L228.37,178.46 L228.59,178.59 L228.81,178.72 L229.02,178.84 L229.24,178.97 L229.45,179.10 L229.67,179.22 L229.88,179.35 L230.10,179.48 L230.31,179.60 L230.53,179.73 L230.74,179.86 L230.96,179.98 L231.18,180.11 L231.39,180.24 L231.61,180.36 L231.82,180.49 L232.04,180.61 L232.26,180.74 L232.47,180.87 L232.69,180.99 L232.91,181.11 L233.12,181.24 L233.34,181.36 L233.56,181.49 L233.77,181.61 L233.99,181.73 L234.21,181.86 L234.43,181.98 L234.64,182.10 L234.86,182.22 L235.08,182.34 L235.30,182.47 L235.52,182.58 L235.74,182.70 L235.96,182.82 L236.18,182.94 L236.40,183.06 L236.62,183.17 L236.84,183.29 L237.06,183.41 L237.29,183.52 L237.51,183.64 L237.73,183.75 L237.95,183.87 L238.18,183.98 L238.40,184.10 L238.62,184.21 L238.84,184.33 L239.06,184.44 L239.29,184.56 L239.51,184.67 L239.73,184.79 L239.95,184.91 L240.17,185.02 L240.39,185.14 L240.61,185.26 L240.83,185.37 L241.05,185.49 L241.27,185.61 L241.49,185.73 L241.71,185.85 L241.93,185.98 L242.15,186.10 L242.36,186.22 L242.58,186.35 L242.80,186.47 L243.01,186.60 L243.22,186.73 L243.44,186.86 L243.65,186.99 L243.86,187.12 L244.07,187.26 L244.28,187.39 L244.50,187.53 L244.71,187.66 L244.92,187.80 L245.13,187.93 L245.34,188.07 L245.55,188.20 L245.76,188.34 L245.97,188.47 L246.18,188.60 L246.39,188.74 L246.61,188.87 L246.82,189.00 L247.03,189.13 L247.25,189.25 L247.46,189.38 L247.68,189.50 L247.90,189.63 L248.12,189.75 L248.33,189.87 L248.55,189.99 L248.77,190.11 L248.99,190.23 L249.21,190.35 L249.43,190.47 L249.65,190.59 L249.87,190.71 L250.09,190.83 L250.31,190.94 L250.53,191.06 L250.76,191.18 L250.98,191.29 L251.20,191.41 L251.42,191.53 L251.64,191.64 L251.86,191.76 L252.08,191.88 L252.30,191.99 L252.52,192.11 L252.74,192.23 L252.96,192.35 L253.19,192.47 L253.41,192.58 L253.63,192.70 L253.85,192.82 L254.07,192.94 L254.29,193.05 L254.51,193.17 L254.73,193.29 L254.95,193.41 L255.17,193.52 L255.39,193.64 L255.61,193.76 L255.83,193.88 L256.05,193.99 L256.28,194.11 L256.50,194.23 L256.72,194.34 L256.94,194.46 L257.16,194.58 L257.38,194.69 L257.60,194.81 L257.82,194.93 L258.04,195.04 L258.26,195.16 L258.49,195.28 L258.71,195.39 L258.93,195.51 L259.15,195.63 L259.37,195.74 L259.59,195.86 L259.81,195.98 L260.03,196.09 L260.25,196.21 L260.48,196.33 L260.70,196.44 L260.92,196.56 L261.14,196.68 L261.36,196.79 L261.58,196.91 L261.80,197.02 L262.03,197.14 L262.25,197.26 L262.47,197.37 L262.69,197.49 L262.91,197.61 L263.13,197.72 L263.35,197.84 L263.58,197.95 L263.80,198.07 L264.02,198.19 L264.24,198.30 L264.46,198.42 L264.68,198.53 L264.90,198.65 L265.13,198.77 L265.35,198.88 L265.57,199.00 L265.79,199.11 L266.01,199.23 L266.23,199.35 L266.45,199.46 L266.68,199.58 L266.90,199.69 L267.12,199.81 L267.34,199.92 L267.56,200.04 L267.78,200.15 L268.01,200.27 L268.23,200.39 L268.45,200.50 L268.67,200.62 L268.89,200.73 L269.12,200.85 L269.34,200.96 L269.56,201.07 L269.78,201.19 L270.01,201.30 L270.23,201.42 L270.45,201.53 L270.67,201.64 L270.90,201.76 L271.12,201.87 L271.34,201.99 L271.56,202.10 L271.79,202.21 L272.01,202.33 L272.23,202.44 L272.45,202.56 L272.68,202.67 L272.90,202.78 L273.12,202.90 L273.34,203.01 L273.57,203.12 L273.79,203.24 L274.01,203.35 L274.24,203.46 L274.46,203.58 L274.68,203.69 L274.90,203.80 L275.13,203.92 L275.35,204.03 L275.57,204.14 L275.80,204.25 L276.02,204.37 L276.24,204.48 L276.47,204.59 L276.69,204.71 L276.91,204.82 L277.14,204.93 L277.36,205.04 L277.58,205.15 L277.81,205.27 L278.03,205.38 L278.25,205.49 L278.48,205.60 L278.70,205.71 L278.92,205.83 L279.15,205.94 L279.37,206.05 L279.59,206.16 L279.82,206.27 L280.04,206.38 L280.27,206.50 L280.49,206.61 L280.71,206.72 L280.94,206.83 L281.16,206.94 L281.39,207.05 L281.61,207.16 L281.83,207.27 L282.06,207.38 L282.28,207.49 L282.51,207.60 L282.73,207.71 L282.96,207.82 L283.18,207.93 L283.41,208.04 L283.63,208.15 L283.86,208.26 L284.08,208.37 L284.31,208.48 L284.53,208.59 L284.76,208.70 L284.98,208.80 L285.21,208.91 L285.43,209.02 L285.66,209.13 L285.88,209.23 L286.11,209.34 L286.34,209.45 L286.56,209.56 L286.79,209.66 L287.01,209.77 L287.24,209.88 L287.47,209.98 L287.69,210.09 L287.92,210.19 L288.15,210.30 L288.37,210.41 L288.60,210.51 L288.83,210.62 L289.05,210.72 L289.28,210.83 L289.51,210.94 L289.73,211.04 L289.96,211.15 L290.19,211.25 L290.41,211.36 L290.64,211.46 L290.87,211.57 L291.09,211.67 L291.32,211.78 L291.55,211.88 L291.77,211.99 L292.00,212.10 L292.23,212.20 L292.46,212.31 L292.68,212.41 L292.91,212.52 L293.14,212.62 L293.36,212.73 L293.59,212.83 L293.82,212.94 L294.04,213.05 L294.27,213.15 L294.50,213.26 L294.72,213.36 L294.95,213.47 L295.18,213.57 L295.40,213.68 L295.63,213.79 L295.85,213.89 L296.08,214.00 L296.31,214.11 L296.53,214.21 L296.76,214.32 L296.98,214.43 L297.21,214.53 L297.44,214.64 L297.66,214.75 L297.89,214.86 L298.11,214.96 L298.34,215.07 L298.56,215.18 L298.79,215.29 L299.01,215.40 L299.24,215.51 L299.46,215.61 L299.69,215.72 L299.91,215.83 L300.14,215.94 L300.36,216.05 L300.59,216.16 L300.81,216.27 L301.04,216.38 L301.26,216.49 L301.48,216.60 L301.71,216.72 L301.93,216.83 L302.15,216.94 L302.38,217.05 L302.60,217.16 L302.82,217.28 L303.05,217.39 L303.27,217.50 L303.49,217.62 L303.71,217.73 L303.94,217.84 L304.16,217.96 L304.38,218.07 L304.60,218.19 L304.82,218.31 L305.04,218.42 L305.26,218.54 L305.48,218.66 L305.70,218.78 L305.92,218.90 L306.14,219.01 L306.36,219.13 L306.58,219.25 L306.80,219.37 L307.02,219.49 L307.24,219.62 L307.46,219.74 L307.68,219.86 L307.89,219.98 L308.11,220.10 L308.33,220.22 L308.55,220.34 L308.77,220.47 L308.99,220.59 L309.21,220.71 L309.42,220.83 L309.64,220.96 L309.86,221.08 L310.08,221.20 L310.30,221.32 L310.51,221.44 L310.73,221.57 L310.95,221.69 L311.17,221.81 L311.39,221.93 L311.61,222.05 L311.83,222.17 L312.04,222.30 L312.26,222.42 L312.48,222.54 L312.70,222.66 L312.92,222.78 L313.14,222.90 L313.36,223.02 L313.58,223.14 L313.80,223.25 L314.02,223.37 L314.24,223.49 L314.46,223.61 L314.68,223.72 L314.90,223.84 L315.13,223.96 L315.35,224.07 L315.57,224.19 L315.79,224.30 L316.01,224.42 L316.23,224.53 L316.45,224.65 L316.68,224.76 L316.90,224.88 L317.12,224.99 L317.34,225.11 L317.57,225.22 L317.79,225.34 L318.01,225.45 L318.23,225.57 L318.46,225.68 L318.68,225.79 L318.90,225.91 L319.12,226.02 L319.35,226.13 L319.57,226.25 L319.79,226.36 L320.01,226.47 L320.24,226.59 L320.46,226.70 L320.68,226.81 L320.91,226.93 L321.13,227.04 L321.35,227.15 L321.58,227.27 L321.80,227.38 L322.02,227.49 L322.25,227.60 L322.47,227.72 L322.69,227.83 L322.91,227.94 L323.14,228.06 L323.36,228.17 L323.58,228.28 L323.81,228.39 L324.03,228.51 L324.25,228.62 L324.48,228.73 L324.70,228.85 L324.92,228.96 L325.14,229.07 L325.37,229.19 L325.59,229.30 L325.81,229.41 L326.04,229.53 L326.26,229.64 L326.48,229.75 L326.70,229.87 L326.93,229.98 L327.15,230.09 L327.37,230.20 L327.60,230.32 L327.82,230.43 L328.04,230.54 L328.27,230.66 L328.49,230.77 L328.71,230.88 L328.94,230.99 L329.16,231.11 L329.38,231.22 L329.60,231.33 L329.83,231.45 L330.05,231.56 L330.27,231.67 L330.50,231.78 L330.72,231.90 L330.94,232.01 L331.17,232.12 L331.39,232.23 L331.61,232.35 L331.84,232.46 L332.06,232.57 L332.28,232.68 L332.51,232.80 L332.73,232.91 L332.95,233.02 L333.18,233.13 L333.40,233.25 L333.62,233.36 L333.85,233.47 L334.07,233.58 L334.29,233.70 L334.52,233.81 L334.74,233.92 L334.96,234.03 L335.19,234.14 L335.41,234.26 L335.63,234.37 L335.86,234.48 L336.08,234.59 L336.30,234.71 L336.53,234.82 L336.75,234.93 L336.97,235.05 L337.20,235.16 L337.42,235.27 L337.64,235.38 L337.86,235.50 L338.09,235.61 L338.31,235.72 L338.53,235.83 L338.76,235.95 L338.98,236.06 L339.20,236.17 L339.43,236.29 L339.65,236.40 L339.87,236.51 L340.10,236.62 L340.32,236.74 L340.54,236.85 L340.77,236.96 L340.99,237.07 L341.21,237.19 L341.44,237.30 L341.66,237.41 L341.88,237.52 L342.11,237.63 L342.33,237.75 L342.55,237.86 L342.78,237.97 L343.00,238.08 L343.22,238.19 L343.45,238.31 L343.67,238.42 L343.90,238.53 L344.12,238.64 L344.34,238.75 L344.57,238.86 L344.79,238.97 L345.02,239.08 L345.24,239.19 L345.46,239.30 L345.69,239.42 L345.91,239.53 L346.14,239.64 L346.36,239.75 L346.59,239.86 L346.81,239.96 L347.04,240.07 L347.26,240.18 L347.49,240.29 L347.71,240.40 L347.94,240.51 L348.16,240.62 L348.38,240.73 L348.61,240.84 L348.83,240.95 L349.06,241.06 L349.28,241.17 L349.51,241.28 L349.74,241.38 L349.96,241.49 L350.19,241.60 L350.41,241.71 L350.64,241.82 L350.86,241.93 L351.09,242.03 L351.31,242.14 L351.54,242.25 L351.76,242.36 L351.99,242.46 L352.22,242.57 L352.44,242.68 L352.67,242.78 L352.90,242.89 L353.12,242.99 L353.35,243.10 L353.58,243.20 L353.80,243.31 L354.03,243.41 L354.26,243.51 L354.49,243.62 L354.72,243.72 L354.94,243.82 L355.17,243.92 L355.40,244.02 L355.63,244.12 L355.86,244.22 L356.09,244.32 L356.32,244.42 L356.55,244.52 L356.78,244.62 L357.01,244.72 L357.24,244.82 L357.47,244.91 L357.70,245.01 L357.93,245.11 L358.16,245.21 L358.39,245.30 L358.62,245.40 L358.85,245.49 L359.08,245.59 L359.31,245.69 L359.54,245.78 L359.77,245.88 L360.00,245.97 L360.23,246.07 L360.47,246.16 L360.70,246.26 L360.93,246.35 L361.16,246.45 L361.39,246.54 L361.62,246.64 L361.86,246.73 L362.09,246.82 L362.32,246.92 L362.55,247.01 L362.78,247.11 L363.01,247.20 L363.25,247.29 L363.48,247.39 L363.71,247.48 L363.94,247.57 L364.17,247.67 L364.41,247.76 L364.64,247.85 L364.87,247.95 L365.10,248.04 L365.33,248.13 L365.57,248.23 L365.80,248.32 L366.03,248.41 L366.26,248.51 L366.49,248.60 L366.73,248.69 L366.96,248.78 L367.19,248.88 L367.42,248.97 L367.66,249.06 L367.89,249.15 L368.12,249.24 L368.35,249.34 L368.59,249.43 L368.82,249.52 L369.05,249.61 L369.28,249.70 L369.52,249.79 L369.75,249.88 L369.98,249.97 L370.22,250.07 L370.45,250.16 L370.68,250.25 L370.91,250.34 L371.15,250.43 L371.38,250.52 L371.61,250.61 L371.85,250.70 L372.08,250.79 L372.31,250.88 L372.55,250.97 L372.78,251.06 L373.01,251.15 L373.25,251.24 L373.48,251.33 L373.71,251.41 L373.95,251.50 L374.18,251.59 L374.41,251.68 L374.65,251.77 L374.88,251.86 L375.12,251.95 L375.35,252.04 L375.58,252.13 L375.82,252.22 L376.05,252.30 L376.28,252.39 L376.52,252.48 L376.75,252.57 L376.99,252.66 L377.22,252.75 L377.45,252.84 L377.69,252.92 L377.92,253.01 L378.16,253.10 L378.39,253.19 L378.62,253.28 L378.86,253.36 L379.09,253.45 L379.33,253.54 L379.56,253.63 L379.79,253.71 L380.03,253.80 L380.26,253.89 L380.50,253.98 L380.73,254.06 L380.97,254.15 L381.20,254.23 L381.44,254.32 L381.67,254.41 L381.91,254.49 L382.14,254.58 L382.38,254.66 L382.61,254.75 L382.85,254.83 L383.08,254.92 L383.32,255.00 L383.55,255.09 L383.79,255.17 L384.02,255.26 L384.26,255.34 L384.49,255.42 L384.73,255.51 L384.97,255.59 L385.20,255.67 L385.44,255.75 L385.67,255.84 L385.91,255.92 L386.14,256.00 L386.38,256.08 L386.62,256.16 L386.85,256.25 L387.09,256.33 L387.32,256.41 L387.56,256.49 L387.80,256.57 L388.03,256.65 L388.27,256.74 L388.51,256.82 L388.74,256.90 L388.98,256.98 L389.21,257.06 L389.45,257.14 L389.69,257.22 L389.92,257.30 L390.16,257.39 L390.40,257.47 L390.63,257.55 L390.87,257.63 L391.11,257.71 L391.34,257.79 L391.58,257.87 L391.82,257.95 L392.05,258.03 L392.29,258.11 L392.53,258.19 L392.76,258.27 L393.00,258.35 L393.24,258.43 L393.48,258.51 L393.71,258.59 L393.95,258.67 L394.19,258.74 L394.42,258.82 L394.66,258.90 L394.90,258.98 L395.14,259.06 L395.37,259.14 L395.61,259.22 L395.85,259.30 L396.09,259.37 L396.32,259.45 L396.56,259.53 L396.80,259.61 L397.04,259.69 L397.27,259.76 L397.51,259.84 L397.75,259.92 L397.99,260.00 L398.22,260.07 L398.46,260.15 L398.70,260.23 L398.94,260.30 L399.18,260.38 L399.41,260.46 L399.65,260.53 L399.89,260.61 L400.13,260.69 L400.37,260.76 L400.60,260.84 L400.84,260.92 L401.08,260.99 L401.32,261.07 L401.56,261.14 L401.80,261.22 L402.03,261.29 L402.27,261.37 L402.51,261.44 L402.75,261.52 L402.99,261.59 L403.23,261.67 L403.47,261.74 L403.71,261.82 L403.94,261.89 L404.18,261.96 L404.42,262.04 L404.66,262.11 L404.90,262.19 L405.14,262.26 L405.38,262.33 L405.62,262.41 L405.86,262.48 L406.10,262.55 L406.34,262.62 L406.57,262.70 L406.81,262.77 L407.05,262.84 L407.29,262.91 L407.53,262.99 L407.77,263.06 L408.01,263.13 L408.25,263.20" stroke="#ff0000" stroke-width="2.0" stroke-dasharray="12.5 3.2 2.6 3.2" stroke-dashoffset="15.63"/>
</g>
<g font-family="'Liberation Sans', sans-serif" font-size="14.2" fill="#000" stroke="#000" stroke-width="0.35" filter="url(#g)">
<text x="63.6" y="349.85" text-anchor="end">0</text>
<text x="63.6" y="304.85" text-anchor="end">200</text>
<text x="63.6" y="259.85" text-anchor="end">400</text>
<text x="63.6" y="214.85" text-anchor="end">600</text>
<text x="63.6" y="169.85" text-anchor="end">800</text>
<text x="63.6" y="124.85" text-anchor="end">1000</text>
<text x="63.6" y="79.85" text-anchor="end">1200</text>
<text x="63.6" y="34.85" text-anchor="end">1400</text>
<text x="146.49" y="364.2" text-anchor="middle">4000</text>
<text x="226.85" y="364.2" text-anchor="middle">8000</text>
<text x="307.20" y="364.2" text-anchor="middle">12000</text>
<text x="387.56" y="364.2" text-anchor="middle">16000</text>
</g>
<g font-family="'Liberation Sans', sans-serif" font-size="17.8" fill="#000" stroke="#000" stroke-width="0.35" filter="url(#g)">
<text x="165.9" y="388.8">Frequency (cm</text>
<text x="284.5" y="381.4" font-size="10.2" textLength="6.7" lengthAdjust="spacingAndGlyphs">-1</text>
<text x="292.9" y="388.8">)</text>
<g transform="translate(24.0,224) rotate(-90)">
<text x="0.6" y="0" font-size="16.2">σ</text>
<text x="9.5" y="6.2" font-size="9.8">1</text>
<text x="20.8" y="-0.5" font-size="16.6">(</text>
<text x="26.9" y="0" font-size="15.4">Ω</text>
<text x="40.0" y="-11.3" font-size="9.2" textLength="6.9" lengthAdjust="spacingAndGlyphs">-1</text>
<text x="51.4" y="0">cm</text>
<text x="75.2" y="-11.3" font-size="9.2" textLength="6.9" lengthAdjust="spacingAndGlyphs">-1</text>
<text x="84.2" y="-0.5" font-size="16.6">)</text>
</g>
</g>
<g font-family="'Liberation Sans', sans-serif" font-size="19.2" fill="#000" stroke="#000" stroke-width="0.35" filter="url(#g)">
<text x="349.6" y="205.3">LP fit</text>
<text x="263.8" y="318.3">SP fit</text>
</g>
<path d="M345.90,200.40L313.11,212.73" stroke="#ff0000" stroke-width="1.85" fill="none"/><path d="M304.40,216.00L312.93,209.43L315.15,215.32Z" fill="#ff0000"/>
<path d="M259.80,312.30L237.90,312.30" stroke="#0000ff" stroke-width="1.85" fill="none"/><path d="M228.60,312.30L238.90,309.15L238.90,315.45Z" fill="#0000ff"/>
<path d="M280.00,293.30L292.61,272.91" stroke="#00ff00" stroke-width="1.85" fill="none"/><path d="M297.50,265.00L294.76,275.42L289.40,272.10Z" fill="#00ff00"/>
<rect x="181.30" y="12.40" width="134.90" height="113.80" fill="#fff" stroke="none"/>
<g fill="none">
<path d="M181.30,11.90V126.70M316.20,11.90V126.70" stroke="#5a5a5a" stroke-width="1.35"/>
<path d="M180.80,12.40H316.70M180.80,126.20H316.70" stroke="#2a2a2a" stroke-width="1.15"/>
<path d="M181.30,126.20v-4.20M181.30,12.40v4.20M189.73,126.20v-2.30M189.73,12.40v2.30M198.16,126.20v-4.20M198.16,12.40v4.20M206.59,126.20v-2.30M206.59,12.40v2.30M215.03,126.20v-4.20M215.03,12.40v4.20M223.46,126.20v-2.30M223.46,12.40v2.30M231.89,126.20v-4.20M231.89,12.40v4.20M240.32,126.20v-2.30M240.32,12.40v2.30M248.75,126.20v-4.20M248.75,12.40v4.20M257.18,126.20v-2.30M257.18,12.40v2.30M265.61,126.20v-4.20M265.61,12.40v4.20M274.04,126.20v-2.30M274.04,12.40v2.30M282.48,126.20v-4.20M282.48,12.40v4.20M290.91,126.20v-2.30M290.91,12.40v2.30M299.34,126.20v-4.20M299.34,12.40v4.20M307.77,126.20v-2.30M307.77,12.40v2.30M316.20,126.20v-4.20M316.20,12.40v4.20" stroke="#3a3a3a" stroke-width="1.1"/>
<path d="M181.30,105.00h3.90M316.20,105.00h-3.90M181.30,84.50h2.20M316.20,84.50h-2.20M181.30,64.00h3.90M316.20,64.00h-3.90M181.30,43.50h2.20M316.20,43.50h-2.20M181.30,23.00h3.90M316.20,23.00h-3.90" stroke="#4a4a4a" stroke-width="1.1"/>
</g>
<g fill="#000"><circle cx="184.20" cy="29.90" r="3.1"/><circle cx="197.50" cy="48.00" r="3.1"/><circle cx="206.25" cy="57.00" r="3.1"/><circle cx="216.50" cy="66.00" r="3.1"/><circle cx="231.75" cy="80.50" r="3.1"/><circle cx="251.75" cy="83.90" r="3.1"/><circle cx="265.25" cy="95.00" r="3.1"/><circle cx="283.75" cy="97.75" r="3.1"/><circle cx="299.25" cy="106.75" r="3.1"/><circle cx="309.25" cy="110.25" r="3.1"/></g>
<g font-family="'Liberation Sans', sans-serif" font-size="14.2" fill="#000" stroke="#000" stroke-width="0.35" filter="url(#g)">
<text x="176.3" y="109.00" text-anchor="end">4000</text>
<text x="176.3" y="68.00" text-anchor="end">4200</text>
<text x="176.3" y="27.00" text-anchor="end">4400</text>
<text x="181.00" y="141.8" text-anchor="middle">0</text>
<text x="197.86" y="141.8" text-anchor="middle">1</text>
<text x="214.72" y="141.8" text-anchor="middle">2</text>
<text x="231.59" y="141.8" text-anchor="middle">3</text>
<text x="248.45" y="141.8" text-anchor="middle">4</text>
<text x="265.31" y="141.8" text-anchor="middle">5</text>
<text x="282.18" y="141.8" text-anchor="middle">6</text>
<text x="299.04" y="141.8" text-anchor="middle">7</text>
<text x="315.90" y="141.8" text-anchor="middle">8</text>
<text x="248.5" y="156.3" text-anchor="middle" font-size="14">Pressure (GPa)</text>
<g transform="translate(136.1,100.7) rotate(-90)">
<text x="0" y="0">2E<tspan font-size="8.4" dy="4.8">P</tspan><tspan dy="-4.8"> (cm</tspan></text>
<text x="51.4" y="-8.4" font-size="7.8">-1</text>
<text x="57.0" y="0">)</text>
</g>
</g>
</svg>
</body></html>
